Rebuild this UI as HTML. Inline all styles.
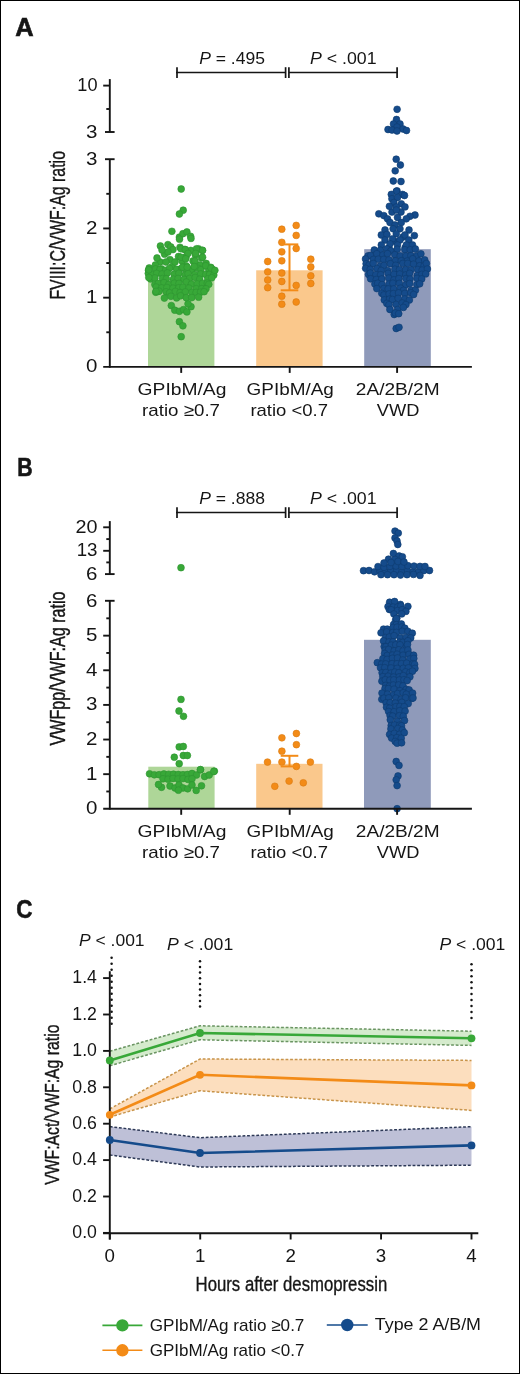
<!DOCTYPE html>
<html><head><meta charset="utf-8"><style>
html,body{margin:0;padding:0;background:#fff;}
.fig{position:relative;width:520px;height:1374px;box-sizing:border-box;border:1px solid #000;overflow:hidden;background:#fff;}
svg{position:absolute;left:-1px;top:-1px;will-change:transform;}
text{font-family:"Liberation Sans",sans-serif;}
</style></head><body><div class="fig">
<svg width="520" height="1374" viewBox="0 0 520 1374">
<rect x="148.0" y="280.36" width="66.40" height="86.54" fill="#aed698"/><rect x="256.2" y="270.30" width="66.40" height="96.60" fill="#fac88c"/><rect x="364.2" y="249.20" width="66.60" height="117.70" fill="#8f9aba"/><rect x="148.3" y="766.70" width="66.30" height="42.10" fill="#aed698"/><rect x="256.2" y="763.80" width="66.30" height="45.00" fill="#fac88c"/><rect x="364.0" y="639.80" width="66.80" height="169.00" fill="#8f9aba"/><path d="M109.80,1051.20 L200.00,1025.80 L471.50,1031.20 L471.50,1045.40 L200.00,1039.80 L109.80,1065.70 Z" fill="#d5ebcd" stroke="none"/><path d="M109.80,1051.20 L200.00,1025.80 L471.50,1031.20" fill="none" stroke="#6a9462" stroke-width="1.5" stroke-dasharray="2.8 1.8"/><path d="M109.80,1065.70 L200.00,1039.80 L471.50,1045.40" fill="none" stroke="#6a9462" stroke-width="1.5" stroke-dasharray="2.8 1.8"/><path d="M109.80,1108.90 L200.00,1059.00 L471.50,1060.40 L471.50,1110.40 L200.00,1090.80 L109.80,1117.00 Z" fill="#fcdebe" stroke="none"/><path d="M109.80,1108.90 L200.00,1059.00 L471.50,1060.40" fill="none" stroke="#c8944a" stroke-width="1.5" stroke-dasharray="2.8 1.8"/><path d="M109.80,1117.00 L200.00,1090.80 L471.50,1110.40" fill="none" stroke="#c8944a" stroke-width="1.5" stroke-dasharray="2.8 1.8"/><path d="M109.80,1126.60 L200.00,1137.70 L471.50,1126.70 L471.50,1165.20 L200.00,1167.00 L109.80,1155.00 Z" fill="#bec0d7" stroke="none"/><path d="M109.80,1126.60 L200.00,1137.70 L471.50,1126.70" fill="none" stroke="#2c3856" stroke-width="1.5" stroke-dasharray="2.8 1.8"/><path d="M109.80,1155.00 L200.00,1167.00 L471.50,1165.20" fill="none" stroke="#2c3856" stroke-width="1.5" stroke-dasharray="2.8 1.8"/><circle cx="181.2" cy="189.0" r="3.40" fill="#38a838" stroke="#2e9330" stroke-width="0.6"/><circle cx="183.2" cy="210.2" r="3.40" fill="#38a838" stroke="#2e9330" stroke-width="0.6"/><circle cx="179.4" cy="214.0" r="3.40" fill="#38a838" stroke="#2e9330" stroke-width="0.6"/><circle cx="171.9" cy="231.3" r="3.40" fill="#38a838" stroke="#2e9330" stroke-width="0.6"/><circle cx="179.4" cy="237.1" r="3.40" fill="#38a838" stroke="#2e9330" stroke-width="0.6"/><circle cx="182.9" cy="233.7" r="3.40" fill="#38a838" stroke="#2e9330" stroke-width="0.6"/><circle cx="186.9" cy="231.9" r="3.40" fill="#38a838" stroke="#2e9330" stroke-width="0.6"/><circle cx="190.6" cy="236.3" r="3.40" fill="#38a838" stroke="#2e9330" stroke-width="0.6"/><circle cx="160.4" cy="246.0" r="3.40" fill="#38a838" stroke="#2e9330" stroke-width="0.6"/><circle cx="167.9" cy="244.6" r="3.40" fill="#38a838" stroke="#2e9330" stroke-width="0.6"/><circle cx="170.8" cy="246.9" r="3.40" fill="#38a838" stroke="#2e9330" stroke-width="0.6"/><circle cx="164.6" cy="254.2" r="3.40" fill="#38a838" stroke="#2e9330" stroke-width="0.6"/><circle cx="173.0" cy="249.6" r="3.40" fill="#38a838" stroke="#2e9330" stroke-width="0.6"/><circle cx="180.0" cy="247.3" r="3.40" fill="#38a838" stroke="#2e9330" stroke-width="0.6"/><circle cx="184.6" cy="249.6" r="3.40" fill="#38a838" stroke="#2e9330" stroke-width="0.6"/><circle cx="190.8" cy="250.4" r="3.40" fill="#38a838" stroke="#2e9330" stroke-width="0.6"/><circle cx="198.5" cy="248.8" r="3.40" fill="#38a838" stroke="#2e9330" stroke-width="0.6"/><circle cx="202.3" cy="250.4" r="3.40" fill="#38a838" stroke="#2e9330" stroke-width="0.6"/><circle cx="178.5" cy="256.5" r="3.40" fill="#38a838" stroke="#2e9330" stroke-width="0.6"/><circle cx="186.2" cy="256.5" r="3.40" fill="#38a838" stroke="#2e9330" stroke-width="0.6"/><circle cx="195.4" cy="255.0" r="3.40" fill="#38a838" stroke="#2e9330" stroke-width="0.6"/><circle cx="201.5" cy="258.0" r="3.40" fill="#38a838" stroke="#2e9330" stroke-width="0.6"/><circle cx="160.0" cy="262.0" r="3.40" fill="#38a838" stroke="#2e9330" stroke-width="0.6"/><circle cx="170.0" cy="259.6" r="3.40" fill="#38a838" stroke="#2e9330" stroke-width="0.6"/><circle cx="149.2" cy="268.0" r="3.40" fill="#38a838" stroke="#2e9330" stroke-width="0.6"/><circle cx="155.4" cy="265.0" r="3.40" fill="#38a838" stroke="#2e9330" stroke-width="0.6"/><circle cx="161.5" cy="268.8" r="3.40" fill="#38a838" stroke="#2e9330" stroke-width="0.6"/><circle cx="172.3" cy="266.5" r="3.40" fill="#38a838" stroke="#2e9330" stroke-width="0.6"/><circle cx="178.5" cy="269.6" r="3.40" fill="#38a838" stroke="#2e9330" stroke-width="0.6"/><circle cx="186.2" cy="265.8" r="3.40" fill="#38a838" stroke="#2e9330" stroke-width="0.6"/><circle cx="192.3" cy="269.6" r="3.40" fill="#38a838" stroke="#2e9330" stroke-width="0.6"/><circle cx="200.0" cy="265.0" r="3.40" fill="#38a838" stroke="#2e9330" stroke-width="0.6"/><circle cx="206.2" cy="263.5" r="3.40" fill="#38a838" stroke="#2e9330" stroke-width="0.6"/><circle cx="210.8" cy="267.3" r="3.40" fill="#38a838" stroke="#2e9330" stroke-width="0.6"/><circle cx="213.8" cy="270.4" r="3.40" fill="#38a838" stroke="#2e9330" stroke-width="0.6"/><circle cx="166.0" cy="262.0" r="3.40" fill="#38a838" stroke="#2e9330" stroke-width="0.6"/><circle cx="182.0" cy="261.0" r="3.40" fill="#38a838" stroke="#2e9330" stroke-width="0.6"/><circle cx="193.0" cy="261.0" r="3.40" fill="#38a838" stroke="#2e9330" stroke-width="0.6"/><circle cx="155.8" cy="292.3" r="3.40" fill="#38a838" stroke="#2e9330" stroke-width="0.6"/><circle cx="171.3" cy="305.6" r="3.40" fill="#38a838" stroke="#2e9330" stroke-width="0.6"/><circle cx="174.8" cy="310.2" r="3.40" fill="#38a838" stroke="#2e9330" stroke-width="0.6"/><circle cx="179.4" cy="311.3" r="3.40" fill="#38a838" stroke="#2e9330" stroke-width="0.6"/><circle cx="183.5" cy="309.6" r="3.40" fill="#38a838" stroke="#2e9330" stroke-width="0.6"/><circle cx="186.9" cy="311.9" r="3.40" fill="#38a838" stroke="#2e9330" stroke-width="0.6"/><circle cx="191.0" cy="306.7" r="3.40" fill="#38a838" stroke="#2e9330" stroke-width="0.6"/><circle cx="188.0" cy="303.8" r="3.40" fill="#38a838" stroke="#2e9330" stroke-width="0.6"/><circle cx="179.4" cy="321.7" r="3.40" fill="#38a838" stroke="#2e9330" stroke-width="0.6"/><circle cx="182.9" cy="325.8" r="3.40" fill="#38a838" stroke="#2e9330" stroke-width="0.6"/><circle cx="181.2" cy="336.7" r="3.40" fill="#38a838" stroke="#2e9330" stroke-width="0.6"/><circle cx="148.5" cy="270.4" r="3.40" fill="#38a838" stroke="#2e9330" stroke-width="0.6"/><circle cx="155.5" cy="268.9" r="3.40" fill="#38a838" stroke="#2e9330" stroke-width="0.6"/><circle cx="160.0" cy="269.4" r="3.40" fill="#38a838" stroke="#2e9330" stroke-width="0.6"/><circle cx="165.7" cy="270.3" r="3.40" fill="#38a838" stroke="#2e9330" stroke-width="0.6"/><circle cx="169.5" cy="268.3" r="3.40" fill="#38a838" stroke="#2e9330" stroke-width="0.6"/><circle cx="176.7" cy="269.3" r="3.40" fill="#38a838" stroke="#2e9330" stroke-width="0.6"/><circle cx="181.8" cy="268.2" r="3.40" fill="#38a838" stroke="#2e9330" stroke-width="0.6"/><circle cx="186.3" cy="270.1" r="3.40" fill="#38a838" stroke="#2e9330" stroke-width="0.6"/><circle cx="191.0" cy="270.7" r="3.40" fill="#38a838" stroke="#2e9330" stroke-width="0.6"/><circle cx="198.0" cy="268.3" r="3.40" fill="#38a838" stroke="#2e9330" stroke-width="0.6"/><circle cx="201.0" cy="269.6" r="3.40" fill="#38a838" stroke="#2e9330" stroke-width="0.6"/><circle cx="208.7" cy="269.2" r="3.40" fill="#38a838" stroke="#2e9330" stroke-width="0.6"/><circle cx="212.1" cy="269.3" r="3.40" fill="#38a838" stroke="#2e9330" stroke-width="0.6"/><circle cx="148.3" cy="273.4" r="3.40" fill="#38a838" stroke="#2e9330" stroke-width="0.6"/><circle cx="152.0" cy="274.1" r="3.40" fill="#38a838" stroke="#2e9330" stroke-width="0.6"/><circle cx="156.7" cy="273.4" r="3.40" fill="#38a838" stroke="#2e9330" stroke-width="0.6"/><circle cx="162.0" cy="274.0" r="3.40" fill="#38a838" stroke="#2e9330" stroke-width="0.6"/><circle cx="167.4" cy="272.9" r="3.40" fill="#38a838" stroke="#2e9330" stroke-width="0.6"/><circle cx="174.1" cy="274.2" r="3.40" fill="#38a838" stroke="#2e9330" stroke-width="0.6"/><circle cx="178.9" cy="273.3" r="3.40" fill="#38a838" stroke="#2e9330" stroke-width="0.6"/><circle cx="185.1" cy="275.0" r="3.40" fill="#38a838" stroke="#2e9330" stroke-width="0.6"/><circle cx="188.1" cy="273.7" r="3.40" fill="#38a838" stroke="#2e9330" stroke-width="0.6"/><circle cx="194.9" cy="274.6" r="3.40" fill="#38a838" stroke="#2e9330" stroke-width="0.6"/><circle cx="200.7" cy="273.9" r="3.40" fill="#38a838" stroke="#2e9330" stroke-width="0.6"/><circle cx="205.7" cy="274.5" r="3.40" fill="#38a838" stroke="#2e9330" stroke-width="0.6"/><circle cx="209.6" cy="274.3" r="3.40" fill="#38a838" stroke="#2e9330" stroke-width="0.6"/><circle cx="213.8" cy="275.0" r="3.40" fill="#38a838" stroke="#2e9330" stroke-width="0.6"/><circle cx="150.5" cy="278.9" r="3.40" fill="#38a838" stroke="#2e9330" stroke-width="0.6"/><circle cx="154.9" cy="278.0" r="3.40" fill="#38a838" stroke="#2e9330" stroke-width="0.6"/><circle cx="162.5" cy="278.5" r="3.40" fill="#38a838" stroke="#2e9330" stroke-width="0.6"/><circle cx="166.4" cy="278.8" r="3.40" fill="#38a838" stroke="#2e9330" stroke-width="0.6"/><circle cx="173.4" cy="279.2" r="3.40" fill="#38a838" stroke="#2e9330" stroke-width="0.6"/><circle cx="178.1" cy="278.5" r="3.40" fill="#38a838" stroke="#2e9330" stroke-width="0.6"/><circle cx="184.1" cy="279.4" r="3.40" fill="#38a838" stroke="#2e9330" stroke-width="0.6"/><circle cx="189.7" cy="278.4" r="3.40" fill="#38a838" stroke="#2e9330" stroke-width="0.6"/><circle cx="195.2" cy="277.5" r="3.40" fill="#38a838" stroke="#2e9330" stroke-width="0.6"/><circle cx="199.7" cy="279.2" r="3.40" fill="#38a838" stroke="#2e9330" stroke-width="0.6"/><circle cx="207.7" cy="278.9" r="3.40" fill="#38a838" stroke="#2e9330" stroke-width="0.6"/><circle cx="211.8" cy="277.8" r="3.40" fill="#38a838" stroke="#2e9330" stroke-width="0.6"/><circle cx="154.9" cy="284.6" r="3.40" fill="#38a838" stroke="#2e9330" stroke-width="0.6"/><circle cx="158.3" cy="283.4" r="3.40" fill="#38a838" stroke="#2e9330" stroke-width="0.6"/><circle cx="164.0" cy="282.6" r="3.40" fill="#38a838" stroke="#2e9330" stroke-width="0.6"/><circle cx="168.7" cy="284.5" r="3.40" fill="#38a838" stroke="#2e9330" stroke-width="0.6"/><circle cx="174.3" cy="283.2" r="3.40" fill="#38a838" stroke="#2e9330" stroke-width="0.6"/><circle cx="179.0" cy="283.4" r="3.40" fill="#38a838" stroke="#2e9330" stroke-width="0.6"/><circle cx="186.3" cy="282.0" r="3.40" fill="#38a838" stroke="#2e9330" stroke-width="0.6"/><circle cx="191.4" cy="284.1" r="3.40" fill="#38a838" stroke="#2e9330" stroke-width="0.6"/><circle cx="197.2" cy="283.9" r="3.40" fill="#38a838" stroke="#2e9330" stroke-width="0.6"/><circle cx="202.5" cy="283.3" r="3.40" fill="#38a838" stroke="#2e9330" stroke-width="0.6"/><circle cx="207.3" cy="283.1" r="3.40" fill="#38a838" stroke="#2e9330" stroke-width="0.6"/><circle cx="208.8" cy="284.3" r="3.40" fill="#38a838" stroke="#2e9330" stroke-width="0.6"/><circle cx="156.2" cy="287.1" r="3.40" fill="#38a838" stroke="#2e9330" stroke-width="0.6"/><circle cx="161.7" cy="287.9" r="3.40" fill="#38a838" stroke="#2e9330" stroke-width="0.6"/><circle cx="166.9" cy="287.5" r="3.40" fill="#38a838" stroke="#2e9330" stroke-width="0.6"/><circle cx="173.0" cy="288.2" r="3.40" fill="#38a838" stroke="#2e9330" stroke-width="0.6"/><circle cx="178.8" cy="287.8" r="3.40" fill="#38a838" stroke="#2e9330" stroke-width="0.6"/><circle cx="182.9" cy="287.2" r="3.40" fill="#38a838" stroke="#2e9330" stroke-width="0.6"/><circle cx="188.9" cy="288.1" r="3.40" fill="#38a838" stroke="#2e9330" stroke-width="0.6"/><circle cx="196.3" cy="288.7" r="3.40" fill="#38a838" stroke="#2e9330" stroke-width="0.6"/><circle cx="201.8" cy="288.7" r="3.40" fill="#38a838" stroke="#2e9330" stroke-width="0.6"/><circle cx="206.0" cy="288.8" r="3.40" fill="#38a838" stroke="#2e9330" stroke-width="0.6"/><circle cx="158.2" cy="291.4" r="3.40" fill="#38a838" stroke="#2e9330" stroke-width="0.6"/><circle cx="159.0" cy="291.2" r="3.40" fill="#38a838" stroke="#2e9330" stroke-width="0.6"/><circle cx="166.1" cy="291.8" r="3.40" fill="#38a838" stroke="#2e9330" stroke-width="0.6"/><circle cx="169.6" cy="292.8" r="3.40" fill="#38a838" stroke="#2e9330" stroke-width="0.6"/><circle cx="175.4" cy="291.4" r="3.40" fill="#38a838" stroke="#2e9330" stroke-width="0.6"/><circle cx="180.1" cy="292.6" r="3.40" fill="#38a838" stroke="#2e9330" stroke-width="0.6"/><circle cx="185.3" cy="291.9" r="3.40" fill="#38a838" stroke="#2e9330" stroke-width="0.6"/><circle cx="191.9" cy="292.4" r="3.40" fill="#38a838" stroke="#2e9330" stroke-width="0.6"/><circle cx="196.1" cy="292.4" r="3.40" fill="#38a838" stroke="#2e9330" stroke-width="0.6"/><circle cx="200.5" cy="292.2" r="3.40" fill="#38a838" stroke="#2e9330" stroke-width="0.6"/><circle cx="204.1" cy="291.7" r="3.40" fill="#38a838" stroke="#2e9330" stroke-width="0.6"/><circle cx="164.4" cy="298.1" r="3.40" fill="#38a838" stroke="#2e9330" stroke-width="0.6"/><circle cx="170.9" cy="296.3" r="3.40" fill="#38a838" stroke="#2e9330" stroke-width="0.6"/><circle cx="176.6" cy="297.9" r="3.40" fill="#38a838" stroke="#2e9330" stroke-width="0.6"/><circle cx="180.6" cy="295.8" r="3.40" fill="#38a838" stroke="#2e9330" stroke-width="0.6"/><circle cx="186.3" cy="297.7" r="3.40" fill="#38a838" stroke="#2e9330" stroke-width="0.6"/><circle cx="191.8" cy="297.6" r="3.40" fill="#38a838" stroke="#2e9330" stroke-width="0.6"/><circle cx="198.6" cy="297.2" r="3.40" fill="#38a838" stroke="#2e9330" stroke-width="0.6"/><circle cx="179.5" cy="239.2" r="3.40" fill="#38a838" stroke="#2e9330" stroke-width="0.6"/><circle cx="191.0" cy="238.4" r="3.40" fill="#38a838" stroke="#2e9330" stroke-width="0.6"/><circle cx="181.0" cy="248.8" r="3.40" fill="#38a838" stroke="#2e9330" stroke-width="0.6"/><circle cx="185.3" cy="249.5" r="3.40" fill="#38a838" stroke="#2e9330" stroke-width="0.6"/><circle cx="188.0" cy="253.4" r="3.40" fill="#38a838" stroke="#2e9330" stroke-width="0.6"/><circle cx="196.5" cy="248.8" r="3.40" fill="#38a838" stroke="#2e9330" stroke-width="0.6"/><circle cx="202.6" cy="250.3" r="3.40" fill="#38a838" stroke="#2e9330" stroke-width="0.6"/><circle cx="195.7" cy="253.4" r="3.40" fill="#38a838" stroke="#2e9330" stroke-width="0.6"/><circle cx="202.6" cy="257.2" r="3.40" fill="#38a838" stroke="#2e9330" stroke-width="0.6"/><circle cx="181.0" cy="257.2" r="3.40" fill="#38a838" stroke="#2e9330" stroke-width="0.6"/><circle cx="185.7" cy="258.8" r="3.40" fill="#38a838" stroke="#2e9330" stroke-width="0.6"/><circle cx="195.0" cy="261.0" r="3.40" fill="#38a838" stroke="#2e9330" stroke-width="0.6"/><circle cx="182.6" cy="267.2" r="3.40" fill="#38a838" stroke="#2e9330" stroke-width="0.6"/><circle cx="187.2" cy="267.2" r="3.40" fill="#38a838" stroke="#2e9330" stroke-width="0.6"/><circle cx="194.2" cy="266.5" r="3.40" fill="#38a838" stroke="#2e9330" stroke-width="0.6"/><circle cx="205.7" cy="265.7" r="3.40" fill="#38a838" stroke="#2e9330" stroke-width="0.6"/><circle cx="211.0" cy="268.0" r="3.40" fill="#38a838" stroke="#2e9330" stroke-width="0.6"/><circle cx="214.9" cy="270.3" r="3.40" fill="#38a838" stroke="#2e9330" stroke-width="0.6"/><circle cx="148.8" cy="269.8" r="3.40" fill="#38a838" stroke="#2e9330" stroke-width="0.6"/><circle cx="148.8" cy="277.5" r="3.40" fill="#38a838" stroke="#2e9330" stroke-width="0.6"/><circle cx="156.0" cy="291.4" r="3.40" fill="#38a838" stroke="#2e9330" stroke-width="0.6"/><circle cx="157.0" cy="258.0" r="3.40" fill="#38a838" stroke="#2e9330" stroke-width="0.6"/><circle cx="175.0" cy="262.0" r="3.40" fill="#38a838" stroke="#2e9330" stroke-width="0.6"/><circle cx="168.0" cy="252.0" r="3.40" fill="#38a838" stroke="#2e9330" stroke-width="0.6"/><circle cx="162.0" cy="250.0" r="3.40" fill="#38a838" stroke="#2e9330" stroke-width="0.6"/><circle cx="267.7" cy="261.5" r="3.40" fill="#f38b17" stroke="#d97a10" stroke-width="0.6"/><circle cx="267.7" cy="271.8" r="3.40" fill="#f38b17" stroke="#d97a10" stroke-width="0.6"/><circle cx="267.7" cy="280.0" r="3.40" fill="#f38b17" stroke="#d97a10" stroke-width="0.6"/><circle cx="267.7" cy="287.7" r="3.40" fill="#f38b17" stroke="#d97a10" stroke-width="0.6"/><circle cx="281.8" cy="229.2" r="3.40" fill="#f38b17" stroke="#d97a10" stroke-width="0.6"/><circle cx="281.8" cy="242.3" r="3.40" fill="#f38b17" stroke="#d97a10" stroke-width="0.6"/><circle cx="281.8" cy="251.8" r="3.40" fill="#f38b17" stroke="#d97a10" stroke-width="0.6"/><circle cx="281.8" cy="260.8" r="3.40" fill="#f38b17" stroke="#d97a10" stroke-width="0.6"/><circle cx="281.8" cy="273.0" r="3.40" fill="#f38b17" stroke="#d97a10" stroke-width="0.6"/><circle cx="281.8" cy="281.5" r="3.40" fill="#f38b17" stroke="#d97a10" stroke-width="0.6"/><circle cx="281.8" cy="296.2" r="3.40" fill="#f38b17" stroke="#d97a10" stroke-width="0.6"/><circle cx="281.8" cy="304.2" r="3.40" fill="#f38b17" stroke="#d97a10" stroke-width="0.6"/><circle cx="296.2" cy="225.4" r="3.40" fill="#f38b17" stroke="#d97a10" stroke-width="0.6"/><circle cx="296.2" cy="235.4" r="3.40" fill="#f38b17" stroke="#d97a10" stroke-width="0.6"/><circle cx="296.2" cy="248.5" r="3.40" fill="#f38b17" stroke="#d97a10" stroke-width="0.6"/><circle cx="296.2" cy="285.4" r="3.40" fill="#f38b17" stroke="#d97a10" stroke-width="0.6"/><circle cx="296.2" cy="302.0" r="3.40" fill="#f38b17" stroke="#d97a10" stroke-width="0.6"/><circle cx="310.8" cy="259.2" r="3.40" fill="#f38b17" stroke="#d97a10" stroke-width="0.6"/><circle cx="310.8" cy="266.9" r="3.40" fill="#f38b17" stroke="#d97a10" stroke-width="0.6"/><circle cx="310.8" cy="275.8" r="3.40" fill="#f38b17" stroke="#d97a10" stroke-width="0.6"/><circle cx="310.8" cy="283.5" r="3.40" fill="#f38b17" stroke="#d97a10" stroke-width="0.6"/><circle cx="397.1" cy="109.3" r="3.40" fill="#154b8b" stroke="#0e3a6e" stroke-width="0.6"/><circle cx="396.5" cy="119.5" r="3.40" fill="#154b8b" stroke="#0e3a6e" stroke-width="0.6"/><circle cx="393.5" cy="124.0" r="3.40" fill="#154b8b" stroke="#0e3a6e" stroke-width="0.6"/><circle cx="400.0" cy="124.0" r="3.40" fill="#154b8b" stroke="#0e3a6e" stroke-width="0.6"/><circle cx="397.0" cy="127.0" r="3.40" fill="#154b8b" stroke="#0e3a6e" stroke-width="0.6"/><circle cx="388.0" cy="129.5" r="3.40" fill="#154b8b" stroke="#0e3a6e" stroke-width="0.6"/><circle cx="392.0" cy="130.0" r="3.40" fill="#154b8b" stroke="#0e3a6e" stroke-width="0.6"/><circle cx="403.0" cy="129.0" r="3.40" fill="#154b8b" stroke="#0e3a6e" stroke-width="0.6"/><circle cx="406.5" cy="130.5" r="3.40" fill="#154b8b" stroke="#0e3a6e" stroke-width="0.6"/><circle cx="397.0" cy="131.0" r="3.40" fill="#154b8b" stroke="#0e3a6e" stroke-width="0.6"/><circle cx="396.2" cy="159.2" r="3.40" fill="#154b8b" stroke="#0e3a6e" stroke-width="0.6"/><circle cx="400.4" cy="165.0" r="3.40" fill="#154b8b" stroke="#0e3a6e" stroke-width="0.6"/><circle cx="395.2" cy="170.8" r="3.40" fill="#154b8b" stroke="#0e3a6e" stroke-width="0.6"/><circle cx="393.3" cy="181.0" r="3.40" fill="#154b8b" stroke="#0e3a6e" stroke-width="0.6"/><circle cx="401.0" cy="181.5" r="3.40" fill="#154b8b" stroke="#0e3a6e" stroke-width="0.6"/><circle cx="397.0" cy="190.8" r="3.40" fill="#154b8b" stroke="#0e3a6e" stroke-width="0.6"/><circle cx="396.2" cy="328.5" r="3.40" fill="#154b8b" stroke="#0e3a6e" stroke-width="0.6"/><circle cx="399.0" cy="327.3" r="3.40" fill="#154b8b" stroke="#0e3a6e" stroke-width="0.6"/><circle cx="396.3" cy="191.3" r="3.40" fill="#154b8b" stroke="#0e3a6e" stroke-width="0.6"/><circle cx="392.0" cy="212.0" r="3.40" fill="#154b8b" stroke="#0e3a6e" stroke-width="0.6"/><circle cx="401.0" cy="212.0" r="3.40" fill="#154b8b" stroke="#0e3a6e" stroke-width="0.6"/><circle cx="385.0" cy="230.0" r="3.40" fill="#154b8b" stroke="#0e3a6e" stroke-width="0.6"/><circle cx="409.0" cy="230.0" r="3.40" fill="#154b8b" stroke="#0e3a6e" stroke-width="0.6"/><circle cx="389.0" cy="248.0" r="3.40" fill="#154b8b" stroke="#0e3a6e" stroke-width="0.6"/><circle cx="405.0" cy="248.0" r="3.40" fill="#154b8b" stroke="#0e3a6e" stroke-width="0.6"/><circle cx="394.0" cy="241.0" r="3.40" fill="#154b8b" stroke="#0e3a6e" stroke-width="0.6"/><circle cx="403.0" cy="237.0" r="3.40" fill="#154b8b" stroke="#0e3a6e" stroke-width="0.6"/><circle cx="391.3" cy="194.4" r="3.40" fill="#154b8b" stroke="#0e3a6e" stroke-width="0.6"/><circle cx="402.5" cy="194.4" r="3.40" fill="#154b8b" stroke="#0e3a6e" stroke-width="0.6"/><circle cx="404.5" cy="195.5" r="3.40" fill="#154b8b" stroke="#0e3a6e" stroke-width="0.6"/><circle cx="391.9" cy="198.8" r="3.40" fill="#154b8b" stroke="#0e3a6e" stroke-width="0.6"/><circle cx="397.5" cy="197.5" r="3.40" fill="#154b8b" stroke="#0e3a6e" stroke-width="0.6"/><circle cx="393.8" cy="202.5" r="3.40" fill="#154b8b" stroke="#0e3a6e" stroke-width="0.6"/><circle cx="401.3" cy="203.8" r="3.40" fill="#154b8b" stroke="#0e3a6e" stroke-width="0.6"/><circle cx="389.4" cy="206.3" r="3.40" fill="#154b8b" stroke="#0e3a6e" stroke-width="0.6"/><circle cx="396.3" cy="206.9" r="3.40" fill="#154b8b" stroke="#0e3a6e" stroke-width="0.6"/><circle cx="405.0" cy="206.9" r="3.40" fill="#154b8b" stroke="#0e3a6e" stroke-width="0.6"/><circle cx="396.3" cy="210.0" r="3.40" fill="#154b8b" stroke="#0e3a6e" stroke-width="0.6"/><circle cx="378.8" cy="213.8" r="3.40" fill="#154b8b" stroke="#0e3a6e" stroke-width="0.6"/><circle cx="383.8" cy="215.6" r="3.40" fill="#154b8b" stroke="#0e3a6e" stroke-width="0.6"/><circle cx="415.0" cy="215.0" r="3.40" fill="#154b8b" stroke="#0e3a6e" stroke-width="0.6"/><circle cx="410.0" cy="216.3" r="3.40" fill="#154b8b" stroke="#0e3a6e" stroke-width="0.6"/><circle cx="387.5" cy="218.8" r="3.40" fill="#154b8b" stroke="#0e3a6e" stroke-width="0.6"/><circle cx="406.3" cy="218.8" r="3.40" fill="#154b8b" stroke="#0e3a6e" stroke-width="0.6"/><circle cx="397.5" cy="217.5" r="3.40" fill="#154b8b" stroke="#0e3a6e" stroke-width="0.6"/><circle cx="390.0" cy="222.5" r="3.40" fill="#154b8b" stroke="#0e3a6e" stroke-width="0.6"/><circle cx="401.3" cy="222.5" r="3.40" fill="#154b8b" stroke="#0e3a6e" stroke-width="0.6"/><circle cx="395.0" cy="225.0" r="3.40" fill="#154b8b" stroke="#0e3a6e" stroke-width="0.6"/><circle cx="393.1" cy="228.8" r="3.40" fill="#154b8b" stroke="#0e3a6e" stroke-width="0.6"/><circle cx="400.0" cy="228.8" r="3.40" fill="#154b8b" stroke="#0e3a6e" stroke-width="0.6"/><circle cx="381.3" cy="235.0" r="3.40" fill="#154b8b" stroke="#0e3a6e" stroke-width="0.6"/><circle cx="386.9" cy="234.4" r="3.40" fill="#154b8b" stroke="#0e3a6e" stroke-width="0.6"/><circle cx="405.0" cy="235.0" r="3.40" fill="#154b8b" stroke="#0e3a6e" stroke-width="0.6"/><circle cx="414.4" cy="235.6" r="3.40" fill="#154b8b" stroke="#0e3a6e" stroke-width="0.6"/><circle cx="396.3" cy="233.8" r="3.40" fill="#154b8b" stroke="#0e3a6e" stroke-width="0.6"/><circle cx="385.0" cy="240.0" r="3.40" fill="#154b8b" stroke="#0e3a6e" stroke-width="0.6"/><circle cx="392.5" cy="238.8" r="3.40" fill="#154b8b" stroke="#0e3a6e" stroke-width="0.6"/><circle cx="400.0" cy="240.0" r="3.40" fill="#154b8b" stroke="#0e3a6e" stroke-width="0.6"/><circle cx="408.8" cy="240.0" r="3.40" fill="#154b8b" stroke="#0e3a6e" stroke-width="0.6"/><circle cx="381.3" cy="245.0" r="3.40" fill="#154b8b" stroke="#0e3a6e" stroke-width="0.6"/><circle cx="390.0" cy="243.8" r="3.40" fill="#154b8b" stroke="#0e3a6e" stroke-width="0.6"/><circle cx="397.5" cy="245.0" r="3.40" fill="#154b8b" stroke="#0e3a6e" stroke-width="0.6"/><circle cx="406.3" cy="245.0" r="3.40" fill="#154b8b" stroke="#0e3a6e" stroke-width="0.6"/><circle cx="412.5" cy="245.0" r="3.40" fill="#154b8b" stroke="#0e3a6e" stroke-width="0.6"/><circle cx="374.3" cy="250.0" r="3.40" fill="#154b8b" stroke="#0e3a6e" stroke-width="0.6"/><circle cx="380.4" cy="250.2" r="3.40" fill="#154b8b" stroke="#0e3a6e" stroke-width="0.6"/><circle cx="386.8" cy="248.8" r="3.40" fill="#154b8b" stroke="#0e3a6e" stroke-width="0.6"/><circle cx="390.9" cy="250.8" r="3.40" fill="#154b8b" stroke="#0e3a6e" stroke-width="0.6"/><circle cx="397.2" cy="249.2" r="3.40" fill="#154b8b" stroke="#0e3a6e" stroke-width="0.6"/><circle cx="404.9" cy="249.8" r="3.40" fill="#154b8b" stroke="#0e3a6e" stroke-width="0.6"/><circle cx="410.2" cy="249.8" r="3.40" fill="#154b8b" stroke="#0e3a6e" stroke-width="0.6"/><circle cx="415.4" cy="249.0" r="3.40" fill="#154b8b" stroke="#0e3a6e" stroke-width="0.6"/><circle cx="368.1" cy="255.8" r="3.40" fill="#154b8b" stroke="#0e3a6e" stroke-width="0.6"/><circle cx="370.7" cy="255.4" r="3.40" fill="#154b8b" stroke="#0e3a6e" stroke-width="0.6"/><circle cx="376.8" cy="253.7" r="3.40" fill="#154b8b" stroke="#0e3a6e" stroke-width="0.6"/><circle cx="382.9" cy="255.0" r="3.40" fill="#154b8b" stroke="#0e3a6e" stroke-width="0.6"/><circle cx="387.5" cy="253.6" r="3.40" fill="#154b8b" stroke="#0e3a6e" stroke-width="0.6"/><circle cx="394.8" cy="254.7" r="3.40" fill="#154b8b" stroke="#0e3a6e" stroke-width="0.6"/><circle cx="400.2" cy="255.8" r="3.40" fill="#154b8b" stroke="#0e3a6e" stroke-width="0.6"/><circle cx="406.0" cy="255.9" r="3.40" fill="#154b8b" stroke="#0e3a6e" stroke-width="0.6"/><circle cx="410.9" cy="255.6" r="3.40" fill="#154b8b" stroke="#0e3a6e" stroke-width="0.6"/><circle cx="416.9" cy="255.9" r="3.40" fill="#154b8b" stroke="#0e3a6e" stroke-width="0.6"/><circle cx="420.9" cy="253.8" r="3.40" fill="#154b8b" stroke="#0e3a6e" stroke-width="0.6"/><circle cx="365.5" cy="259.0" r="3.40" fill="#154b8b" stroke="#0e3a6e" stroke-width="0.6"/><circle cx="373.4" cy="259.5" r="3.40" fill="#154b8b" stroke="#0e3a6e" stroke-width="0.6"/><circle cx="378.3" cy="259.2" r="3.40" fill="#154b8b" stroke="#0e3a6e" stroke-width="0.6"/><circle cx="383.7" cy="259.4" r="3.40" fill="#154b8b" stroke="#0e3a6e" stroke-width="0.6"/><circle cx="389.0" cy="259.9" r="3.40" fill="#154b8b" stroke="#0e3a6e" stroke-width="0.6"/><circle cx="395.3" cy="260.8" r="3.40" fill="#154b8b" stroke="#0e3a6e" stroke-width="0.6"/><circle cx="401.3" cy="260.8" r="3.40" fill="#154b8b" stroke="#0e3a6e" stroke-width="0.6"/><circle cx="407.4" cy="261.0" r="3.40" fill="#154b8b" stroke="#0e3a6e" stroke-width="0.6"/><circle cx="412.7" cy="258.8" r="3.40" fill="#154b8b" stroke="#0e3a6e" stroke-width="0.6"/><circle cx="418.9" cy="260.9" r="3.40" fill="#154b8b" stroke="#0e3a6e" stroke-width="0.6"/><circle cx="424.7" cy="259.9" r="3.40" fill="#154b8b" stroke="#0e3a6e" stroke-width="0.6"/><circle cx="366.1" cy="263.8" r="3.40" fill="#154b8b" stroke="#0e3a6e" stroke-width="0.6"/><circle cx="369.2" cy="264.8" r="3.40" fill="#154b8b" stroke="#0e3a6e" stroke-width="0.6"/><circle cx="373.3" cy="263.5" r="3.40" fill="#154b8b" stroke="#0e3a6e" stroke-width="0.6"/><circle cx="380.4" cy="265.9" r="3.40" fill="#154b8b" stroke="#0e3a6e" stroke-width="0.6"/><circle cx="384.0" cy="265.4" r="3.40" fill="#154b8b" stroke="#0e3a6e" stroke-width="0.6"/><circle cx="390.4" cy="263.7" r="3.40" fill="#154b8b" stroke="#0e3a6e" stroke-width="0.6"/><circle cx="395.7" cy="265.3" r="3.40" fill="#154b8b" stroke="#0e3a6e" stroke-width="0.6"/><circle cx="402.8" cy="263.4" r="3.40" fill="#154b8b" stroke="#0e3a6e" stroke-width="0.6"/><circle cx="407.7" cy="263.4" r="3.40" fill="#154b8b" stroke="#0e3a6e" stroke-width="0.6"/><circle cx="413.5" cy="264.2" r="3.40" fill="#154b8b" stroke="#0e3a6e" stroke-width="0.6"/><circle cx="419.5" cy="265.8" r="3.40" fill="#154b8b" stroke="#0e3a6e" stroke-width="0.6"/><circle cx="424.1" cy="265.9" r="3.40" fill="#154b8b" stroke="#0e3a6e" stroke-width="0.6"/><circle cx="426.4" cy="263.5" r="3.40" fill="#154b8b" stroke="#0e3a6e" stroke-width="0.6"/><circle cx="365.6" cy="268.3" r="3.40" fill="#154b8b" stroke="#0e3a6e" stroke-width="0.6"/><circle cx="370.2" cy="269.3" r="3.40" fill="#154b8b" stroke="#0e3a6e" stroke-width="0.6"/><circle cx="377.0" cy="268.6" r="3.40" fill="#154b8b" stroke="#0e3a6e" stroke-width="0.6"/><circle cx="381.2" cy="270.5" r="3.40" fill="#154b8b" stroke="#0e3a6e" stroke-width="0.6"/><circle cx="387.7" cy="270.7" r="3.40" fill="#154b8b" stroke="#0e3a6e" stroke-width="0.6"/><circle cx="394.9" cy="269.2" r="3.40" fill="#154b8b" stroke="#0e3a6e" stroke-width="0.6"/><circle cx="399.5" cy="269.6" r="3.40" fill="#154b8b" stroke="#0e3a6e" stroke-width="0.6"/><circle cx="405.6" cy="269.7" r="3.40" fill="#154b8b" stroke="#0e3a6e" stroke-width="0.6"/><circle cx="411.1" cy="269.8" r="3.40" fill="#154b8b" stroke="#0e3a6e" stroke-width="0.6"/><circle cx="417.8" cy="269.5" r="3.40" fill="#154b8b" stroke="#0e3a6e" stroke-width="0.6"/><circle cx="422.2" cy="270.1" r="3.40" fill="#154b8b" stroke="#0e3a6e" stroke-width="0.6"/><circle cx="427.4" cy="269.0" r="3.40" fill="#154b8b" stroke="#0e3a6e" stroke-width="0.6"/><circle cx="368.6" cy="274.5" r="3.40" fill="#154b8b" stroke="#0e3a6e" stroke-width="0.6"/><circle cx="370.4" cy="273.1" r="3.40" fill="#154b8b" stroke="#0e3a6e" stroke-width="0.6"/><circle cx="375.9" cy="274.6" r="3.40" fill="#154b8b" stroke="#0e3a6e" stroke-width="0.6"/><circle cx="380.7" cy="274.7" r="3.40" fill="#154b8b" stroke="#0e3a6e" stroke-width="0.6"/><circle cx="388.1" cy="273.3" r="3.40" fill="#154b8b" stroke="#0e3a6e" stroke-width="0.6"/><circle cx="393.9" cy="274.3" r="3.40" fill="#154b8b" stroke="#0e3a6e" stroke-width="0.6"/><circle cx="399.8" cy="274.0" r="3.40" fill="#154b8b" stroke="#0e3a6e" stroke-width="0.6"/><circle cx="405.7" cy="275.0" r="3.40" fill="#154b8b" stroke="#0e3a6e" stroke-width="0.6"/><circle cx="409.7" cy="273.3" r="3.40" fill="#154b8b" stroke="#0e3a6e" stroke-width="0.6"/><circle cx="417.2" cy="275.6" r="3.40" fill="#154b8b" stroke="#0e3a6e" stroke-width="0.6"/><circle cx="421.9" cy="274.3" r="3.40" fill="#154b8b" stroke="#0e3a6e" stroke-width="0.6"/><circle cx="425.7" cy="273.9" r="3.40" fill="#154b8b" stroke="#0e3a6e" stroke-width="0.6"/><circle cx="370.6" cy="278.8" r="3.40" fill="#154b8b" stroke="#0e3a6e" stroke-width="0.6"/><circle cx="376.3" cy="279.5" r="3.40" fill="#154b8b" stroke="#0e3a6e" stroke-width="0.6"/><circle cx="381.8" cy="279.0" r="3.40" fill="#154b8b" stroke="#0e3a6e" stroke-width="0.6"/><circle cx="388.7" cy="278.1" r="3.40" fill="#154b8b" stroke="#0e3a6e" stroke-width="0.6"/><circle cx="393.9" cy="279.9" r="3.40" fill="#154b8b" stroke="#0e3a6e" stroke-width="0.6"/><circle cx="398.9" cy="278.6" r="3.40" fill="#154b8b" stroke="#0e3a6e" stroke-width="0.6"/><circle cx="405.9" cy="278.6" r="3.40" fill="#154b8b" stroke="#0e3a6e" stroke-width="0.6"/><circle cx="410.0" cy="279.1" r="3.40" fill="#154b8b" stroke="#0e3a6e" stroke-width="0.6"/><circle cx="417.0" cy="278.3" r="3.40" fill="#154b8b" stroke="#0e3a6e" stroke-width="0.6"/><circle cx="421.7" cy="278.9" r="3.40" fill="#154b8b" stroke="#0e3a6e" stroke-width="0.6"/><circle cx="374.9" cy="284.0" r="3.40" fill="#154b8b" stroke="#0e3a6e" stroke-width="0.6"/><circle cx="377.7" cy="283.3" r="3.40" fill="#154b8b" stroke="#0e3a6e" stroke-width="0.6"/><circle cx="382.0" cy="284.6" r="3.40" fill="#154b8b" stroke="#0e3a6e" stroke-width="0.6"/><circle cx="389.0" cy="284.1" r="3.40" fill="#154b8b" stroke="#0e3a6e" stroke-width="0.6"/><circle cx="392.9" cy="283.2" r="3.40" fill="#154b8b" stroke="#0e3a6e" stroke-width="0.6"/><circle cx="399.3" cy="283.4" r="3.40" fill="#154b8b" stroke="#0e3a6e" stroke-width="0.6"/><circle cx="405.6" cy="285.1" r="3.40" fill="#154b8b" stroke="#0e3a6e" stroke-width="0.6"/><circle cx="409.6" cy="283.6" r="3.40" fill="#154b8b" stroke="#0e3a6e" stroke-width="0.6"/><circle cx="416.9" cy="284.6" r="3.40" fill="#154b8b" stroke="#0e3a6e" stroke-width="0.6"/><circle cx="419.7" cy="283.8" r="3.40" fill="#154b8b" stroke="#0e3a6e" stroke-width="0.6"/><circle cx="376.8" cy="288.6" r="3.40" fill="#154b8b" stroke="#0e3a6e" stroke-width="0.6"/><circle cx="383.9" cy="288.5" r="3.40" fill="#154b8b" stroke="#0e3a6e" stroke-width="0.6"/><circle cx="388.2" cy="288.9" r="3.40" fill="#154b8b" stroke="#0e3a6e" stroke-width="0.6"/><circle cx="393.8" cy="288.9" r="3.40" fill="#154b8b" stroke="#0e3a6e" stroke-width="0.6"/><circle cx="400.5" cy="288.2" r="3.40" fill="#154b8b" stroke="#0e3a6e" stroke-width="0.6"/><circle cx="403.5" cy="290.3" r="3.40" fill="#154b8b" stroke="#0e3a6e" stroke-width="0.6"/><circle cx="411.2" cy="290.4" r="3.40" fill="#154b8b" stroke="#0e3a6e" stroke-width="0.6"/><circle cx="415.4" cy="290.3" r="3.40" fill="#154b8b" stroke="#0e3a6e" stroke-width="0.6"/><circle cx="381.8" cy="293.3" r="3.40" fill="#154b8b" stroke="#0e3a6e" stroke-width="0.6"/><circle cx="384.0" cy="294.9" r="3.40" fill="#154b8b" stroke="#0e3a6e" stroke-width="0.6"/><circle cx="389.1" cy="294.0" r="3.40" fill="#154b8b" stroke="#0e3a6e" stroke-width="0.6"/><circle cx="393.4" cy="293.6" r="3.40" fill="#154b8b" stroke="#0e3a6e" stroke-width="0.6"/><circle cx="398.6" cy="292.9" r="3.40" fill="#154b8b" stroke="#0e3a6e" stroke-width="0.6"/><circle cx="404.8" cy="293.4" r="3.40" fill="#154b8b" stroke="#0e3a6e" stroke-width="0.6"/><circle cx="410.7" cy="292.8" r="3.40" fill="#154b8b" stroke="#0e3a6e" stroke-width="0.6"/><circle cx="413.6" cy="294.5" r="3.40" fill="#154b8b" stroke="#0e3a6e" stroke-width="0.6"/><circle cx="384.3" cy="299.9" r="3.40" fill="#154b8b" stroke="#0e3a6e" stroke-width="0.6"/><circle cx="389.5" cy="299.1" r="3.40" fill="#154b8b" stroke="#0e3a6e" stroke-width="0.6"/><circle cx="392.5" cy="299.5" r="3.40" fill="#154b8b" stroke="#0e3a6e" stroke-width="0.6"/><circle cx="398.2" cy="298.4" r="3.40" fill="#154b8b" stroke="#0e3a6e" stroke-width="0.6"/><circle cx="404.8" cy="299.0" r="3.40" fill="#154b8b" stroke="#0e3a6e" stroke-width="0.6"/><circle cx="409.4" cy="300.0" r="3.40" fill="#154b8b" stroke="#0e3a6e" stroke-width="0.6"/><circle cx="386.8" cy="303.4" r="3.40" fill="#154b8b" stroke="#0e3a6e" stroke-width="0.6"/><circle cx="389.0" cy="304.7" r="3.40" fill="#154b8b" stroke="#0e3a6e" stroke-width="0.6"/><circle cx="396.1" cy="304.5" r="3.40" fill="#154b8b" stroke="#0e3a6e" stroke-width="0.6"/><circle cx="402.2" cy="303.0" r="3.40" fill="#154b8b" stroke="#0e3a6e" stroke-width="0.6"/><circle cx="405.9" cy="304.6" r="3.40" fill="#154b8b" stroke="#0e3a6e" stroke-width="0.6"/><circle cx="389.9" cy="309.5" r="3.40" fill="#154b8b" stroke="#0e3a6e" stroke-width="0.6"/><circle cx="397.7" cy="309.5" r="3.40" fill="#154b8b" stroke="#0e3a6e" stroke-width="0.6"/><circle cx="403.4" cy="307.4" r="3.40" fill="#154b8b" stroke="#0e3a6e" stroke-width="0.6"/><circle cx="394.2" cy="314.5" r="3.40" fill="#154b8b" stroke="#0e3a6e" stroke-width="0.6"/><circle cx="395.4" cy="313.0" r="3.40" fill="#154b8b" stroke="#0e3a6e" stroke-width="0.6"/><circle cx="398.7" cy="313.7" r="3.40" fill="#154b8b" stroke="#0e3a6e" stroke-width="0.6"/><circle cx="181.0" cy="567.7" r="3.40" fill="#38a838" stroke="#2e9330" stroke-width="0.6"/><circle cx="181.0" cy="699.4" r="3.40" fill="#38a838" stroke="#2e9330" stroke-width="0.6"/><circle cx="179.0" cy="711.0" r="3.40" fill="#38a838" stroke="#2e9330" stroke-width="0.6"/><circle cx="183.5" cy="716.3" r="3.40" fill="#38a838" stroke="#2e9330" stroke-width="0.6"/><circle cx="179.2" cy="746.9" r="3.40" fill="#38a838" stroke="#2e9330" stroke-width="0.6"/><circle cx="183.3" cy="746.5" r="3.40" fill="#38a838" stroke="#2e9330" stroke-width="0.6"/><circle cx="174.3" cy="757.2" r="3.40" fill="#38a838" stroke="#2e9330" stroke-width="0.6"/><circle cx="183.3" cy="755.5" r="3.40" fill="#38a838" stroke="#2e9330" stroke-width="0.6"/><circle cx="187.4" cy="755.5" r="3.40" fill="#38a838" stroke="#2e9330" stroke-width="0.6"/><circle cx="179.2" cy="763.7" r="3.40" fill="#38a838" stroke="#2e9330" stroke-width="0.6"/><circle cx="200.5" cy="769.8" r="3.40" fill="#38a838" stroke="#2e9330" stroke-width="0.6"/><circle cx="214.4" cy="771.1" r="3.40" fill="#38a838" stroke="#2e9330" stroke-width="0.6"/><circle cx="149.5" cy="773.8" r="3.40" fill="#38a838" stroke="#2e9330" stroke-width="0.6"/><circle cx="154.3" cy="774.8" r="3.40" fill="#38a838" stroke="#2e9330" stroke-width="0.6"/><circle cx="159.1" cy="774.7" r="3.40" fill="#38a838" stroke="#2e9330" stroke-width="0.6"/><circle cx="163.9" cy="774.0" r="3.40" fill="#38a838" stroke="#2e9330" stroke-width="0.6"/><circle cx="168.7" cy="774.3" r="3.40" fill="#38a838" stroke="#2e9330" stroke-width="0.6"/><circle cx="173.5" cy="774.2" r="3.40" fill="#38a838" stroke="#2e9330" stroke-width="0.6"/><circle cx="178.3" cy="774.5" r="3.40" fill="#38a838" stroke="#2e9330" stroke-width="0.6"/><circle cx="183.0" cy="774.7" r="3.40" fill="#38a838" stroke="#2e9330" stroke-width="0.6"/><circle cx="187.5" cy="774.5" r="3.40" fill="#38a838" stroke="#2e9330" stroke-width="0.6"/><circle cx="192.0" cy="773.5" r="3.40" fill="#38a838" stroke="#2e9330" stroke-width="0.6"/><circle cx="196.5" cy="775.0" r="3.40" fill="#38a838" stroke="#2e9330" stroke-width="0.6"/><circle cx="200.4" cy="769.6" r="3.40" fill="#38a838" stroke="#2e9330" stroke-width="0.6"/><circle cx="204.6" cy="776.5" r="3.40" fill="#38a838" stroke="#2e9330" stroke-width="0.6"/><circle cx="209.2" cy="775.0" r="3.40" fill="#38a838" stroke="#2e9330" stroke-width="0.6"/><circle cx="213.8" cy="771.5" r="3.40" fill="#38a838" stroke="#2e9330" stroke-width="0.6"/><circle cx="163.0" cy="778.8" r="3.40" fill="#38a838" stroke="#2e9330" stroke-width="0.6"/><circle cx="168.0" cy="779.2" r="3.40" fill="#38a838" stroke="#2e9330" stroke-width="0.6"/><circle cx="173.0" cy="778.5" r="3.40" fill="#38a838" stroke="#2e9330" stroke-width="0.6"/><circle cx="178.0" cy="779.0" r="3.40" fill="#38a838" stroke="#2e9330" stroke-width="0.6"/><circle cx="183.0" cy="778.6" r="3.40" fill="#38a838" stroke="#2e9330" stroke-width="0.6"/><circle cx="188.0" cy="779.4" r="3.40" fill="#38a838" stroke="#2e9330" stroke-width="0.6"/><circle cx="192.0" cy="778.8" r="3.40" fill="#38a838" stroke="#2e9330" stroke-width="0.6"/><circle cx="161.5" cy="787.3" r="3.40" fill="#38a838" stroke="#2e9330" stroke-width="0.6"/><circle cx="158.5" cy="784.5" r="3.40" fill="#38a838" stroke="#2e9330" stroke-width="0.6"/><circle cx="170.0" cy="786.0" r="3.40" fill="#38a838" stroke="#2e9330" stroke-width="0.6"/><circle cx="175.0" cy="788.0" r="3.40" fill="#38a838" stroke="#2e9330" stroke-width="0.6"/><circle cx="179.0" cy="785.0" r="3.40" fill="#38a838" stroke="#2e9330" stroke-width="0.6"/><circle cx="183.0" cy="788.0" r="3.40" fill="#38a838" stroke="#2e9330" stroke-width="0.6"/><circle cx="187.7" cy="788.8" r="3.40" fill="#38a838" stroke="#2e9330" stroke-width="0.6"/><circle cx="192.0" cy="785.0" r="3.40" fill="#38a838" stroke="#2e9330" stroke-width="0.6"/><circle cx="196.2" cy="790.4" r="3.40" fill="#38a838" stroke="#2e9330" stroke-width="0.6"/><circle cx="201.5" cy="785.8" r="3.40" fill="#38a838" stroke="#2e9330" stroke-width="0.6"/><circle cx="178.4" cy="790.2" r="3.40" fill="#38a838" stroke="#2e9330" stroke-width="0.6"/><circle cx="281.9" cy="737.8" r="3.40" fill="#f38b17" stroke="#d97a10" stroke-width="0.6"/><circle cx="296.4" cy="733.5" r="3.40" fill="#f38b17" stroke="#d97a10" stroke-width="0.6"/><circle cx="296.4" cy="744.7" r="3.40" fill="#f38b17" stroke="#d97a10" stroke-width="0.6"/><circle cx="281.9" cy="751.2" r="3.40" fill="#f38b17" stroke="#d97a10" stroke-width="0.6"/><circle cx="267.5" cy="762.1" r="3.40" fill="#f38b17" stroke="#d97a10" stroke-width="0.6"/><circle cx="281.9" cy="762.1" r="3.40" fill="#f38b17" stroke="#d97a10" stroke-width="0.6"/><circle cx="296.4" cy="766.4" r="3.40" fill="#f38b17" stroke="#d97a10" stroke-width="0.6"/><circle cx="310.4" cy="762.1" r="3.40" fill="#f38b17" stroke="#d97a10" stroke-width="0.6"/><circle cx="289.1" cy="781.1" r="3.40" fill="#f38b17" stroke="#d97a10" stroke-width="0.6"/><circle cx="274.8" cy="786.3" r="3.40" fill="#f38b17" stroke="#d97a10" stroke-width="0.6"/><circle cx="303.3" cy="782.8" r="3.40" fill="#f38b17" stroke="#d97a10" stroke-width="0.6"/><circle cx="395.0" cy="531.1" r="3.40" fill="#154b8b" stroke="#0e3a6e" stroke-width="0.6"/><circle cx="398.3" cy="533.1" r="3.40" fill="#154b8b" stroke="#0e3a6e" stroke-width="0.6"/><circle cx="395.0" cy="538.0" r="3.40" fill="#154b8b" stroke="#0e3a6e" stroke-width="0.6"/><circle cx="397.0" cy="541.0" r="3.40" fill="#154b8b" stroke="#0e3a6e" stroke-width="0.6"/><circle cx="397.8" cy="544.5" r="3.40" fill="#154b8b" stroke="#0e3a6e" stroke-width="0.6"/><circle cx="393.4" cy="553.5" r="3.40" fill="#154b8b" stroke="#0e3a6e" stroke-width="0.6"/><circle cx="399.1" cy="556.0" r="3.40" fill="#154b8b" stroke="#0e3a6e" stroke-width="0.6"/><circle cx="402.4" cy="556.8" r="3.40" fill="#154b8b" stroke="#0e3a6e" stroke-width="0.6"/><circle cx="388.5" cy="559.2" r="3.40" fill="#154b8b" stroke="#0e3a6e" stroke-width="0.6"/><circle cx="395.0" cy="559.5" r="3.40" fill="#154b8b" stroke="#0e3a6e" stroke-width="0.6"/><circle cx="389.6" cy="602.2" r="3.40" fill="#154b8b" stroke="#0e3a6e" stroke-width="0.6"/><circle cx="394.6" cy="601.5" r="3.40" fill="#154b8b" stroke="#0e3a6e" stroke-width="0.6"/><circle cx="400.4" cy="604.4" r="3.40" fill="#154b8b" stroke="#0e3a6e" stroke-width="0.6"/><circle cx="396.2" cy="761.5" r="3.40" fill="#154b8b" stroke="#0e3a6e" stroke-width="0.6"/><circle cx="399.0" cy="765.4" r="3.40" fill="#154b8b" stroke="#0e3a6e" stroke-width="0.6"/><circle cx="398.0" cy="776.0" r="3.40" fill="#154b8b" stroke="#0e3a6e" stroke-width="0.6"/><circle cx="396.2" cy="779.8" r="3.40" fill="#154b8b" stroke="#0e3a6e" stroke-width="0.6"/><circle cx="397.1" cy="785.6" r="3.40" fill="#154b8b" stroke="#0e3a6e" stroke-width="0.6"/><circle cx="397.1" cy="808.7" r="3.40" fill="#154b8b" stroke="#0e3a6e" stroke-width="0.6"/><circle cx="363.5" cy="570.7" r="3.40" fill="#154b8b" stroke="#0e3a6e" stroke-width="0.6"/><circle cx="369.0" cy="570.5" r="3.40" fill="#154b8b" stroke="#0e3a6e" stroke-width="0.6"/><circle cx="374.5" cy="571.8" r="3.40" fill="#154b8b" stroke="#0e3a6e" stroke-width="0.6"/><circle cx="380.0" cy="571.2" r="3.40" fill="#154b8b" stroke="#0e3a6e" stroke-width="0.6"/><circle cx="385.5" cy="571.7" r="3.40" fill="#154b8b" stroke="#0e3a6e" stroke-width="0.6"/><circle cx="391.0" cy="570.5" r="3.40" fill="#154b8b" stroke="#0e3a6e" stroke-width="0.6"/><circle cx="396.5" cy="571.2" r="3.40" fill="#154b8b" stroke="#0e3a6e" stroke-width="0.6"/><circle cx="402.0" cy="571.7" r="3.40" fill="#154b8b" stroke="#0e3a6e" stroke-width="0.6"/><circle cx="407.5" cy="570.9" r="3.40" fill="#154b8b" stroke="#0e3a6e" stroke-width="0.6"/><circle cx="413.0" cy="572.0" r="3.40" fill="#154b8b" stroke="#0e3a6e" stroke-width="0.6"/><circle cx="418.5" cy="571.9" r="3.40" fill="#154b8b" stroke="#0e3a6e" stroke-width="0.6"/><circle cx="424.0" cy="570.5" r="3.40" fill="#154b8b" stroke="#0e3a6e" stroke-width="0.6"/><circle cx="429.5" cy="570.5" r="3.40" fill="#154b8b" stroke="#0e3a6e" stroke-width="0.6"/><circle cx="378.0" cy="566.6" r="3.40" fill="#154b8b" stroke="#0e3a6e" stroke-width="0.6"/><circle cx="384.0" cy="567.2" r="3.40" fill="#154b8b" stroke="#0e3a6e" stroke-width="0.6"/><circle cx="390.0" cy="566.3" r="3.40" fill="#154b8b" stroke="#0e3a6e" stroke-width="0.6"/><circle cx="396.0" cy="566.0" r="3.40" fill="#154b8b" stroke="#0e3a6e" stroke-width="0.6"/><circle cx="402.0" cy="566.4" r="3.40" fill="#154b8b" stroke="#0e3a6e" stroke-width="0.6"/><circle cx="408.0" cy="565.7" r="3.40" fill="#154b8b" stroke="#0e3a6e" stroke-width="0.6"/><circle cx="414.0" cy="566.1" r="3.40" fill="#154b8b" stroke="#0e3a6e" stroke-width="0.6"/><circle cx="420.0" cy="566.4" r="3.40" fill="#154b8b" stroke="#0e3a6e" stroke-width="0.6"/><circle cx="425.0" cy="566.5" r="3.40" fill="#154b8b" stroke="#0e3a6e" stroke-width="0.6"/><circle cx="381.0" cy="574.7" r="3.40" fill="#154b8b" stroke="#0e3a6e" stroke-width="0.6"/><circle cx="387.5" cy="574.7" r="3.40" fill="#154b8b" stroke="#0e3a6e" stroke-width="0.6"/><circle cx="394.0" cy="574.7" r="3.40" fill="#154b8b" stroke="#0e3a6e" stroke-width="0.6"/><circle cx="400.5" cy="575.0" r="3.40" fill="#154b8b" stroke="#0e3a6e" stroke-width="0.6"/><circle cx="407.0" cy="574.7" r="3.40" fill="#154b8b" stroke="#0e3a6e" stroke-width="0.6"/><circle cx="413.5" cy="574.4" r="3.40" fill="#154b8b" stroke="#0e3a6e" stroke-width="0.6"/><circle cx="420.0" cy="575.4" r="3.40" fill="#154b8b" stroke="#0e3a6e" stroke-width="0.6"/><circle cx="398.0" cy="561.5" r="3.40" fill="#154b8b" stroke="#0e3a6e" stroke-width="0.6"/><circle cx="384.0" cy="563.0" r="3.40" fill="#154b8b" stroke="#0e3a6e" stroke-width="0.6"/><circle cx="404.0" cy="562.0" r="3.40" fill="#154b8b" stroke="#0e3a6e" stroke-width="0.6"/><circle cx="391.0" cy="562.5" r="3.40" fill="#154b8b" stroke="#0e3a6e" stroke-width="0.6"/><circle cx="388.0" cy="606.6" r="3.40" fill="#154b8b" stroke="#0e3a6e" stroke-width="0.6"/><circle cx="393.2" cy="607.1" r="3.40" fill="#154b8b" stroke="#0e3a6e" stroke-width="0.6"/><circle cx="397.8" cy="607.0" r="3.40" fill="#154b8b" stroke="#0e3a6e" stroke-width="0.6"/><circle cx="400.9" cy="605.9" r="3.40" fill="#154b8b" stroke="#0e3a6e" stroke-width="0.6"/><circle cx="407.9" cy="606.4" r="3.40" fill="#154b8b" stroke="#0e3a6e" stroke-width="0.6"/><circle cx="389.3" cy="609.5" r="3.40" fill="#154b8b" stroke="#0e3a6e" stroke-width="0.6"/><circle cx="391.2" cy="609.8" r="3.40" fill="#154b8b" stroke="#0e3a6e" stroke-width="0.6"/><circle cx="397.4" cy="610.6" r="3.40" fill="#154b8b" stroke="#0e3a6e" stroke-width="0.6"/><circle cx="402.2" cy="609.7" r="3.40" fill="#154b8b" stroke="#0e3a6e" stroke-width="0.6"/><circle cx="405.9" cy="611.4" r="3.40" fill="#154b8b" stroke="#0e3a6e" stroke-width="0.6"/><circle cx="393.9" cy="614.0" r="3.40" fill="#154b8b" stroke="#0e3a6e" stroke-width="0.6"/><circle cx="401.7" cy="613.9" r="3.40" fill="#154b8b" stroke="#0e3a6e" stroke-width="0.6"/><circle cx="396.8" cy="618.3" r="3.40" fill="#154b8b" stroke="#0e3a6e" stroke-width="0.6"/><circle cx="395.6" cy="620.1" r="3.40" fill="#154b8b" stroke="#0e3a6e" stroke-width="0.6"/><circle cx="396.4" cy="618.5" r="3.40" fill="#154b8b" stroke="#0e3a6e" stroke-width="0.6"/><circle cx="393.6" cy="624.5" r="3.40" fill="#154b8b" stroke="#0e3a6e" stroke-width="0.6"/><circle cx="396.4" cy="624.7" r="3.40" fill="#154b8b" stroke="#0e3a6e" stroke-width="0.6"/><circle cx="401.4" cy="624.0" r="3.40" fill="#154b8b" stroke="#0e3a6e" stroke-width="0.6"/><circle cx="383.5" cy="629.1" r="3.40" fill="#154b8b" stroke="#0e3a6e" stroke-width="0.6"/><circle cx="387.3" cy="629.1" r="3.40" fill="#154b8b" stroke="#0e3a6e" stroke-width="0.6"/><circle cx="393.1" cy="627.5" r="3.40" fill="#154b8b" stroke="#0e3a6e" stroke-width="0.6"/><circle cx="397.1" cy="627.2" r="3.40" fill="#154b8b" stroke="#0e3a6e" stroke-width="0.6"/><circle cx="401.8" cy="627.0" r="3.40" fill="#154b8b" stroke="#0e3a6e" stroke-width="0.6"/><circle cx="404.8" cy="628.2" r="3.40" fill="#154b8b" stroke="#0e3a6e" stroke-width="0.6"/><circle cx="381.0" cy="632.8" r="3.40" fill="#154b8b" stroke="#0e3a6e" stroke-width="0.6"/><circle cx="386.7" cy="631.9" r="3.40" fill="#154b8b" stroke="#0e3a6e" stroke-width="0.6"/><circle cx="392.8" cy="632.4" r="3.40" fill="#154b8b" stroke="#0e3a6e" stroke-width="0.6"/><circle cx="396.5" cy="632.4" r="3.40" fill="#154b8b" stroke="#0e3a6e" stroke-width="0.6"/><circle cx="402.3" cy="631.3" r="3.40" fill="#154b8b" stroke="#0e3a6e" stroke-width="0.6"/><circle cx="407.9" cy="631.3" r="3.40" fill="#154b8b" stroke="#0e3a6e" stroke-width="0.6"/><circle cx="412.3" cy="633.2" r="3.40" fill="#154b8b" stroke="#0e3a6e" stroke-width="0.6"/><circle cx="385.5" cy="637.5" r="3.40" fill="#154b8b" stroke="#0e3a6e" stroke-width="0.6"/><circle cx="389.3" cy="637.0" r="3.40" fill="#154b8b" stroke="#0e3a6e" stroke-width="0.6"/><circle cx="394.1" cy="635.7" r="3.40" fill="#154b8b" stroke="#0e3a6e" stroke-width="0.6"/><circle cx="400.3" cy="637.9" r="3.40" fill="#154b8b" stroke="#0e3a6e" stroke-width="0.6"/><circle cx="406.1" cy="637.4" r="3.40" fill="#154b8b" stroke="#0e3a6e" stroke-width="0.6"/><circle cx="410.7" cy="637.9" r="3.40" fill="#154b8b" stroke="#0e3a6e" stroke-width="0.6"/><circle cx="383.5" cy="640.9" r="3.40" fill="#154b8b" stroke="#0e3a6e" stroke-width="0.6"/><circle cx="389.0" cy="641.9" r="3.40" fill="#154b8b" stroke="#0e3a6e" stroke-width="0.6"/><circle cx="393.0" cy="641.8" r="3.40" fill="#154b8b" stroke="#0e3a6e" stroke-width="0.6"/><circle cx="399.6" cy="642.1" r="3.40" fill="#154b8b" stroke="#0e3a6e" stroke-width="0.6"/><circle cx="402.8" cy="642.3" r="3.40" fill="#154b8b" stroke="#0e3a6e" stroke-width="0.6"/><circle cx="407.9" cy="640.8" r="3.40" fill="#154b8b" stroke="#0e3a6e" stroke-width="0.6"/><circle cx="384.2" cy="646.6" r="3.40" fill="#154b8b" stroke="#0e3a6e" stroke-width="0.6"/><circle cx="386.0" cy="646.6" r="3.40" fill="#154b8b" stroke="#0e3a6e" stroke-width="0.6"/><circle cx="391.3" cy="645.1" r="3.40" fill="#154b8b" stroke="#0e3a6e" stroke-width="0.6"/><circle cx="395.7" cy="644.8" r="3.40" fill="#154b8b" stroke="#0e3a6e" stroke-width="0.6"/><circle cx="400.0" cy="644.8" r="3.40" fill="#154b8b" stroke="#0e3a6e" stroke-width="0.6"/><circle cx="406.3" cy="646.8" r="3.40" fill="#154b8b" stroke="#0e3a6e" stroke-width="0.6"/><circle cx="407.5" cy="644.5" r="3.40" fill="#154b8b" stroke="#0e3a6e" stroke-width="0.6"/><circle cx="385.1" cy="650.1" r="3.40" fill="#154b8b" stroke="#0e3a6e" stroke-width="0.6"/><circle cx="388.7" cy="649.4" r="3.40" fill="#154b8b" stroke="#0e3a6e" stroke-width="0.6"/><circle cx="394.2" cy="650.8" r="3.40" fill="#154b8b" stroke="#0e3a6e" stroke-width="0.6"/><circle cx="398.9" cy="649.8" r="3.40" fill="#154b8b" stroke="#0e3a6e" stroke-width="0.6"/><circle cx="403.0" cy="651.0" r="3.40" fill="#154b8b" stroke="#0e3a6e" stroke-width="0.6"/><circle cx="407.9" cy="650.0" r="3.40" fill="#154b8b" stroke="#0e3a6e" stroke-width="0.6"/><circle cx="384.6" cy="653.5" r="3.40" fill="#154b8b" stroke="#0e3a6e" stroke-width="0.6"/><circle cx="387.2" cy="655.5" r="3.40" fill="#154b8b" stroke="#0e3a6e" stroke-width="0.6"/><circle cx="392.6" cy="655.1" r="3.40" fill="#154b8b" stroke="#0e3a6e" stroke-width="0.6"/><circle cx="397.1" cy="654.2" r="3.40" fill="#154b8b" stroke="#0e3a6e" stroke-width="0.6"/><circle cx="403.0" cy="655.2" r="3.40" fill="#154b8b" stroke="#0e3a6e" stroke-width="0.6"/><circle cx="409.0" cy="654.3" r="3.40" fill="#154b8b" stroke="#0e3a6e" stroke-width="0.6"/><circle cx="413.6" cy="655.2" r="3.40" fill="#154b8b" stroke="#0e3a6e" stroke-width="0.6"/><circle cx="382.9" cy="658.7" r="3.40" fill="#154b8b" stroke="#0e3a6e" stroke-width="0.6"/><circle cx="387.1" cy="659.4" r="3.40" fill="#154b8b" stroke="#0e3a6e" stroke-width="0.6"/><circle cx="392.4" cy="658.3" r="3.40" fill="#154b8b" stroke="#0e3a6e" stroke-width="0.6"/><circle cx="397.5" cy="658.0" r="3.40" fill="#154b8b" stroke="#0e3a6e" stroke-width="0.6"/><circle cx="402.8" cy="660.0" r="3.40" fill="#154b8b" stroke="#0e3a6e" stroke-width="0.6"/><circle cx="409.6" cy="659.1" r="3.40" fill="#154b8b" stroke="#0e3a6e" stroke-width="0.6"/><circle cx="413.8" cy="658.4" r="3.40" fill="#154b8b" stroke="#0e3a6e" stroke-width="0.6"/><circle cx="377.3" cy="662.7" r="3.40" fill="#154b8b" stroke="#0e3a6e" stroke-width="0.6"/><circle cx="381.6" cy="664.1" r="3.40" fill="#154b8b" stroke="#0e3a6e" stroke-width="0.6"/><circle cx="385.8" cy="663.9" r="3.40" fill="#154b8b" stroke="#0e3a6e" stroke-width="0.6"/><circle cx="392.1" cy="663.7" r="3.40" fill="#154b8b" stroke="#0e3a6e" stroke-width="0.6"/><circle cx="397.1" cy="663.8" r="3.40" fill="#154b8b" stroke="#0e3a6e" stroke-width="0.6"/><circle cx="401.6" cy="663.7" r="3.40" fill="#154b8b" stroke="#0e3a6e" stroke-width="0.6"/><circle cx="406.7" cy="663.2" r="3.40" fill="#154b8b" stroke="#0e3a6e" stroke-width="0.6"/><circle cx="413.1" cy="663.7" r="3.40" fill="#154b8b" stroke="#0e3a6e" stroke-width="0.6"/><circle cx="414.6" cy="664.3" r="3.40" fill="#154b8b" stroke="#0e3a6e" stroke-width="0.6"/><circle cx="380.5" cy="667.8" r="3.40" fill="#154b8b" stroke="#0e3a6e" stroke-width="0.6"/><circle cx="384.7" cy="667.7" r="3.40" fill="#154b8b" stroke="#0e3a6e" stroke-width="0.6"/><circle cx="391.0" cy="668.0" r="3.40" fill="#154b8b" stroke="#0e3a6e" stroke-width="0.6"/><circle cx="397.2" cy="668.4" r="3.40" fill="#154b8b" stroke="#0e3a6e" stroke-width="0.6"/><circle cx="403.3" cy="668.3" r="3.40" fill="#154b8b" stroke="#0e3a6e" stroke-width="0.6"/><circle cx="408.3" cy="667.9" r="3.40" fill="#154b8b" stroke="#0e3a6e" stroke-width="0.6"/><circle cx="414.9" cy="668.4" r="3.40" fill="#154b8b" stroke="#0e3a6e" stroke-width="0.6"/><circle cx="382.1" cy="672.8" r="3.40" fill="#154b8b" stroke="#0e3a6e" stroke-width="0.6"/><circle cx="385.8" cy="672.5" r="3.40" fill="#154b8b" stroke="#0e3a6e" stroke-width="0.6"/><circle cx="390.9" cy="673.1" r="3.40" fill="#154b8b" stroke="#0e3a6e" stroke-width="0.6"/><circle cx="394.8" cy="672.1" r="3.40" fill="#154b8b" stroke="#0e3a6e" stroke-width="0.6"/><circle cx="398.8" cy="672.8" r="3.40" fill="#154b8b" stroke="#0e3a6e" stroke-width="0.6"/><circle cx="405.6" cy="671.9" r="3.40" fill="#154b8b" stroke="#0e3a6e" stroke-width="0.6"/><circle cx="409.9" cy="672.5" r="3.40" fill="#154b8b" stroke="#0e3a6e" stroke-width="0.6"/><circle cx="412.5" cy="671.2" r="3.40" fill="#154b8b" stroke="#0e3a6e" stroke-width="0.6"/><circle cx="382.8" cy="676.6" r="3.40" fill="#154b8b" stroke="#0e3a6e" stroke-width="0.6"/><circle cx="388.1" cy="676.2" r="3.40" fill="#154b8b" stroke="#0e3a6e" stroke-width="0.6"/><circle cx="393.6" cy="677.1" r="3.40" fill="#154b8b" stroke="#0e3a6e" stroke-width="0.6"/><circle cx="399.2" cy="676.9" r="3.40" fill="#154b8b" stroke="#0e3a6e" stroke-width="0.6"/><circle cx="403.3" cy="675.6" r="3.40" fill="#154b8b" stroke="#0e3a6e" stroke-width="0.6"/><circle cx="409.9" cy="676.8" r="3.40" fill="#154b8b" stroke="#0e3a6e" stroke-width="0.6"/><circle cx="381.9" cy="681.2" r="3.40" fill="#154b8b" stroke="#0e3a6e" stroke-width="0.6"/><circle cx="385.3" cy="679.7" r="3.40" fill="#154b8b" stroke="#0e3a6e" stroke-width="0.6"/><circle cx="389.9" cy="680.1" r="3.40" fill="#154b8b" stroke="#0e3a6e" stroke-width="0.6"/><circle cx="393.8" cy="679.9" r="3.40" fill="#154b8b" stroke="#0e3a6e" stroke-width="0.6"/><circle cx="399.4" cy="680.0" r="3.40" fill="#154b8b" stroke="#0e3a6e" stroke-width="0.6"/><circle cx="404.0" cy="679.7" r="3.40" fill="#154b8b" stroke="#0e3a6e" stroke-width="0.6"/><circle cx="407.2" cy="680.5" r="3.40" fill="#154b8b" stroke="#0e3a6e" stroke-width="0.6"/><circle cx="385.6" cy="685.4" r="3.40" fill="#154b8b" stroke="#0e3a6e" stroke-width="0.6"/><circle cx="389.3" cy="686.2" r="3.40" fill="#154b8b" stroke="#0e3a6e" stroke-width="0.6"/><circle cx="393.4" cy="685.0" r="3.40" fill="#154b8b" stroke="#0e3a6e" stroke-width="0.6"/><circle cx="398.7" cy="685.0" r="3.40" fill="#154b8b" stroke="#0e3a6e" stroke-width="0.6"/><circle cx="403.0" cy="686.0" r="3.40" fill="#154b8b" stroke="#0e3a6e" stroke-width="0.6"/><circle cx="385.0" cy="688.5" r="3.40" fill="#154b8b" stroke="#0e3a6e" stroke-width="0.6"/><circle cx="388.4" cy="688.6" r="3.40" fill="#154b8b" stroke="#0e3a6e" stroke-width="0.6"/><circle cx="394.0" cy="689.2" r="3.40" fill="#154b8b" stroke="#0e3a6e" stroke-width="0.6"/><circle cx="399.9" cy="690.7" r="3.40" fill="#154b8b" stroke="#0e3a6e" stroke-width="0.6"/><circle cx="406.2" cy="689.4" r="3.40" fill="#154b8b" stroke="#0e3a6e" stroke-width="0.6"/><circle cx="409.1" cy="689.9" r="3.40" fill="#154b8b" stroke="#0e3a6e" stroke-width="0.6"/><circle cx="382.0" cy="693.1" r="3.40" fill="#154b8b" stroke="#0e3a6e" stroke-width="0.6"/><circle cx="387.5" cy="694.2" r="3.40" fill="#154b8b" stroke="#0e3a6e" stroke-width="0.6"/><circle cx="393.4" cy="695.1" r="3.40" fill="#154b8b" stroke="#0e3a6e" stroke-width="0.6"/><circle cx="397.6" cy="693.6" r="3.40" fill="#154b8b" stroke="#0e3a6e" stroke-width="0.6"/><circle cx="403.2" cy="692.8" r="3.40" fill="#154b8b" stroke="#0e3a6e" stroke-width="0.6"/><circle cx="406.3" cy="694.2" r="3.40" fill="#154b8b" stroke="#0e3a6e" stroke-width="0.6"/><circle cx="412.6" cy="693.1" r="3.40" fill="#154b8b" stroke="#0e3a6e" stroke-width="0.6"/><circle cx="381.8" cy="699.3" r="3.40" fill="#154b8b" stroke="#0e3a6e" stroke-width="0.6"/><circle cx="383.9" cy="698.2" r="3.40" fill="#154b8b" stroke="#0e3a6e" stroke-width="0.6"/><circle cx="388.8" cy="697.9" r="3.40" fill="#154b8b" stroke="#0e3a6e" stroke-width="0.6"/><circle cx="395.9" cy="698.1" r="3.40" fill="#154b8b" stroke="#0e3a6e" stroke-width="0.6"/><circle cx="401.1" cy="699.4" r="3.40" fill="#154b8b" stroke="#0e3a6e" stroke-width="0.6"/><circle cx="405.5" cy="697.8" r="3.40" fill="#154b8b" stroke="#0e3a6e" stroke-width="0.6"/><circle cx="411.7" cy="698.4" r="3.40" fill="#154b8b" stroke="#0e3a6e" stroke-width="0.6"/><circle cx="413.0" cy="698.0" r="3.40" fill="#154b8b" stroke="#0e3a6e" stroke-width="0.6"/><circle cx="386.1" cy="702.8" r="3.40" fill="#154b8b" stroke="#0e3a6e" stroke-width="0.6"/><circle cx="390.1" cy="702.7" r="3.40" fill="#154b8b" stroke="#0e3a6e" stroke-width="0.6"/><circle cx="395.3" cy="703.1" r="3.40" fill="#154b8b" stroke="#0e3a6e" stroke-width="0.6"/><circle cx="401.8" cy="702.3" r="3.40" fill="#154b8b" stroke="#0e3a6e" stroke-width="0.6"/><circle cx="408.2" cy="703.6" r="3.40" fill="#154b8b" stroke="#0e3a6e" stroke-width="0.6"/><circle cx="386.5" cy="707.3" r="3.40" fill="#154b8b" stroke="#0e3a6e" stroke-width="0.6"/><circle cx="389.7" cy="708.2" r="3.40" fill="#154b8b" stroke="#0e3a6e" stroke-width="0.6"/><circle cx="396.0" cy="706.6" r="3.40" fill="#154b8b" stroke="#0e3a6e" stroke-width="0.6"/><circle cx="399.9" cy="706.4" r="3.40" fill="#154b8b" stroke="#0e3a6e" stroke-width="0.6"/><circle cx="404.2" cy="706.7" r="3.40" fill="#154b8b" stroke="#0e3a6e" stroke-width="0.6"/><circle cx="388.6" cy="711.5" r="3.40" fill="#154b8b" stroke="#0e3a6e" stroke-width="0.6"/><circle cx="394.1" cy="711.8" r="3.40" fill="#154b8b" stroke="#0e3a6e" stroke-width="0.6"/><circle cx="399.7" cy="710.7" r="3.40" fill="#154b8b" stroke="#0e3a6e" stroke-width="0.6"/><circle cx="405.1" cy="711.1" r="3.40" fill="#154b8b" stroke="#0e3a6e" stroke-width="0.6"/><circle cx="390.1" cy="715.6" r="3.40" fill="#154b8b" stroke="#0e3a6e" stroke-width="0.6"/><circle cx="392.7" cy="716.1" r="3.40" fill="#154b8b" stroke="#0e3a6e" stroke-width="0.6"/><circle cx="399.4" cy="715.7" r="3.40" fill="#154b8b" stroke="#0e3a6e" stroke-width="0.6"/><circle cx="403.3" cy="716.2" r="3.40" fill="#154b8b" stroke="#0e3a6e" stroke-width="0.6"/><circle cx="390.3" cy="719.8" r="3.40" fill="#154b8b" stroke="#0e3a6e" stroke-width="0.6"/><circle cx="397.4" cy="721.4" r="3.40" fill="#154b8b" stroke="#0e3a6e" stroke-width="0.6"/><circle cx="404.5" cy="720.5" r="3.40" fill="#154b8b" stroke="#0e3a6e" stroke-width="0.6"/><circle cx="391.2" cy="725.5" r="3.40" fill="#154b8b" stroke="#0e3a6e" stroke-width="0.6"/><circle cx="394.5" cy="725.0" r="3.40" fill="#154b8b" stroke="#0e3a6e" stroke-width="0.6"/><circle cx="399.7" cy="725.1" r="3.40" fill="#154b8b" stroke="#0e3a6e" stroke-width="0.6"/><circle cx="401.5" cy="725.8" r="3.40" fill="#154b8b" stroke="#0e3a6e" stroke-width="0.6"/><circle cx="390.9" cy="728.9" r="3.40" fill="#154b8b" stroke="#0e3a6e" stroke-width="0.6"/><circle cx="397.8" cy="728.5" r="3.40" fill="#154b8b" stroke="#0e3a6e" stroke-width="0.6"/><circle cx="402.3" cy="730.0" r="3.40" fill="#154b8b" stroke="#0e3a6e" stroke-width="0.6"/><circle cx="389.6" cy="734.4" r="3.40" fill="#154b8b" stroke="#0e3a6e" stroke-width="0.6"/><circle cx="394.3" cy="733.4" r="3.40" fill="#154b8b" stroke="#0e3a6e" stroke-width="0.6"/><circle cx="399.6" cy="734.3" r="3.40" fill="#154b8b" stroke="#0e3a6e" stroke-width="0.6"/><circle cx="404.3" cy="732.7" r="3.40" fill="#154b8b" stroke="#0e3a6e" stroke-width="0.6"/><circle cx="391.6" cy="738.1" r="3.40" fill="#154b8b" stroke="#0e3a6e" stroke-width="0.6"/><circle cx="396.9" cy="737.6" r="3.40" fill="#154b8b" stroke="#0e3a6e" stroke-width="0.6"/><circle cx="401.2" cy="738.2" r="3.40" fill="#154b8b" stroke="#0e3a6e" stroke-width="0.6"/><circle cx="395.2" cy="741.4" r="3.40" fill="#154b8b" stroke="#0e3a6e" stroke-width="0.6"/><circle cx="397.1" cy="743.2" r="3.40" fill="#154b8b" stroke="#0e3a6e" stroke-width="0.6"/><circle cx="401.6" cy="742.8" r="3.40" fill="#154b8b" stroke="#0e3a6e" stroke-width="0.6"/><text x="15.20" y="35.60" font-size="25" text-anchor="start" font-weight="bold" fill="#151515" textLength="18.40" lengthAdjust="spacingAndGlyphs" stroke="#151515" stroke-width="0.6">A</text><line x1="176.00" y1="72.60" x2="285.60" y2="72.60" stroke="#151515" stroke-width="1.5" /><line x1="288.90" y1="72.60" x2="397.10" y2="72.60" stroke="#151515" stroke-width="1.5" /><line x1="177.00" y1="67.20" x2="177.00" y2="78.00" stroke="#151515" stroke-width="1.7" /><line x1="285.60" y1="67.20" x2="285.60" y2="78.00" stroke="#151515" stroke-width="1.7" /><line x1="288.90" y1="67.20" x2="288.90" y2="78.00" stroke="#151515" stroke-width="1.7" /><line x1="397.10" y1="67.20" x2="397.10" y2="78.00" stroke="#151515" stroke-width="1.7" /><text x="199.20" y="63.90" font-size="17" text-anchor="start" font-weight="normal" fill="#151515" textLength="65.80" lengthAdjust="spacingAndGlyphs"><tspan font-style="italic">P</tspan> = .495</text><text x="310.00" y="63.90" font-size="17" text-anchor="start" font-weight="normal" fill="#151515" textLength="66.60" lengthAdjust="spacingAndGlyphs"><tspan font-style="italic">P</tspan> &lt; .001</text><line x1="109.80" y1="79.10" x2="109.80" y2="132.00" stroke="#151515" stroke-width="1.9" /><line x1="103.20" y1="85.60" x2="109.80" y2="85.60" stroke="#151515" stroke-width="1.9" /><line x1="106.30" y1="109.00" x2="109.80" y2="109.00" stroke="#151515" stroke-width="1.9" /><line x1="105.00" y1="132.00" x2="114.60" y2="132.00" stroke="#151515" stroke-width="1.9" /><text x="97.50" y="91.10" font-size="17.5" text-anchor="end" font-weight="normal" fill="#151515" textLength="20.20" lengthAdjust="spacingAndGlyphs">10</text><text x="97.50" y="137.50" font-size="17.5" text-anchor="end" font-weight="normal" fill="#151515" textLength="11.40" lengthAdjust="spacingAndGlyphs">3</text><line x1="109.80" y1="159.20" x2="109.80" y2="367.70" stroke="#151515" stroke-width="1.9" /><line x1="105.00" y1="159.20" x2="114.60" y2="159.20" stroke="#151515" stroke-width="1.9" /><line x1="103.20" y1="228.44" x2="109.80" y2="228.44" stroke="#151515" stroke-width="1.9" /><line x1="103.20" y1="297.67" x2="109.80" y2="297.67" stroke="#151515" stroke-width="1.9" /><line x1="106.30" y1="193.82" x2="109.80" y2="193.82" stroke="#151515" stroke-width="1.9" /><line x1="106.30" y1="263.05" x2="109.80" y2="263.05" stroke="#151515" stroke-width="1.9" /><line x1="106.30" y1="332.28" x2="109.80" y2="332.28" stroke="#151515" stroke-width="1.9" /><line x1="103.20" y1="366.90" x2="471.90" y2="366.90" stroke="#151515" stroke-width="1.9" /><text x="97.50" y="164.71" font-size="17.5" text-anchor="end" font-weight="normal" fill="#151515" textLength="11.40" lengthAdjust="spacingAndGlyphs">3</text><text x="97.50" y="233.94" font-size="17.5" text-anchor="end" font-weight="normal" fill="#151515" textLength="11.40" lengthAdjust="spacingAndGlyphs">2</text><text x="97.50" y="303.17" font-size="17.5" text-anchor="end" font-weight="normal" fill="#151515" textLength="11.40" lengthAdjust="spacingAndGlyphs">1</text><text x="97.50" y="372.40" font-size="17.5" text-anchor="end" font-weight="normal" fill="#151515" textLength="11.40" lengthAdjust="spacingAndGlyphs">0</text><text x="0" y="0" transform="translate(64.6,299.6) rotate(-90)" font-size="21.5" text-anchor="start" font-weight="normal" fill="#151515" textLength="148.60" lengthAdjust="spacingAndGlyphs" stroke="#151515" stroke-width="0.4">FVIII:C/VWF:Ag ratio</text><text x="137.60" y="395.30" font-size="17" text-anchor="start" font-weight="normal" fill="#151515" textLength="88.80" lengthAdjust="spacingAndGlyphs">GPIbM/Ag</text><text x="142.10" y="416.00" font-size="17" text-anchor="start" font-weight="normal" fill="#151515" textLength="77.90" lengthAdjust="spacingAndGlyphs">ratio ≥0.7</text><text x="246.60" y="395.30" font-size="17" text-anchor="start" font-weight="normal" fill="#151515" textLength="87.20" lengthAdjust="spacingAndGlyphs">GPIbM/Ag</text><text x="250.40" y="416.00" font-size="17" text-anchor="start" font-weight="normal" fill="#151515" textLength="77.60" lengthAdjust="spacingAndGlyphs">ratio &lt;0.7</text><text x="355.80" y="395.30" font-size="17" text-anchor="start" font-weight="normal" fill="#151515" textLength="83.80" lengthAdjust="spacingAndGlyphs">2A/2B/2M</text><text x="376.80" y="416.00" font-size="17" text-anchor="start" font-weight="normal" fill="#151515" textLength="42.60" lengthAdjust="spacingAndGlyphs">VWD</text><text x="17.20" y="476.10" font-size="25" text-anchor="start" font-weight="bold" fill="#151515" textLength="15.40" lengthAdjust="spacingAndGlyphs" stroke="#151515" stroke-width="0.6">B</text><line x1="176.00" y1="512.60" x2="285.60" y2="512.60" stroke="#151515" stroke-width="1.5" /><line x1="288.90" y1="512.60" x2="397.10" y2="512.60" stroke="#151515" stroke-width="1.5" /><line x1="177.00" y1="507.20" x2="177.00" y2="518.00" stroke="#151515" stroke-width="1.7" /><line x1="285.60" y1="507.20" x2="285.60" y2="518.00" stroke="#151515" stroke-width="1.7" /><line x1="288.90" y1="507.20" x2="288.90" y2="518.00" stroke="#151515" stroke-width="1.7" /><line x1="397.10" y1="507.20" x2="397.10" y2="518.00" stroke="#151515" stroke-width="1.7" /><text x="199.20" y="504.00" font-size="17" text-anchor="start" font-weight="normal" fill="#151515" textLength="65.80" lengthAdjust="spacingAndGlyphs"><tspan font-style="italic">P</tspan> = .888</text><text x="310.00" y="504.00" font-size="17" text-anchor="start" font-weight="normal" fill="#151515" textLength="66.60" lengthAdjust="spacingAndGlyphs"><tspan font-style="italic">P</tspan> &lt; .001</text><line x1="109.80" y1="521.10" x2="109.80" y2="574.10" stroke="#151515" stroke-width="1.9" /><line x1="103.20" y1="527.30" x2="109.80" y2="527.30" stroke="#151515" stroke-width="1.9" /><line x1="103.20" y1="550.80" x2="109.80" y2="550.80" stroke="#151515" stroke-width="1.9" /><line x1="106.30" y1="539.10" x2="109.80" y2="539.10" stroke="#151515" stroke-width="1.9" /><line x1="106.30" y1="562.40" x2="109.80" y2="562.40" stroke="#151515" stroke-width="1.9" /><line x1="105.00" y1="574.10" x2="114.60" y2="574.10" stroke="#151515" stroke-width="1.9" /><text x="97.50" y="532.80" font-size="17.5" text-anchor="end" font-weight="normal" fill="#151515" textLength="22.00" lengthAdjust="spacingAndGlyphs">20</text><text x="97.50" y="556.30" font-size="17.5" text-anchor="end" font-weight="normal" fill="#151515" textLength="20.80" lengthAdjust="spacingAndGlyphs">13</text><text x="97.50" y="579.60" font-size="17.5" text-anchor="end" font-weight="normal" fill="#151515" textLength="11.40" lengthAdjust="spacingAndGlyphs">6</text><line x1="109.80" y1="600.80" x2="109.80" y2="809.60" stroke="#151515" stroke-width="1.9" /><line x1="105.00" y1="600.80" x2="114.60" y2="600.80" stroke="#151515" stroke-width="1.9" /><line x1="103.20" y1="635.65" x2="109.80" y2="635.65" stroke="#151515" stroke-width="1.9" /><line x1="103.20" y1="670.28" x2="109.80" y2="670.28" stroke="#151515" stroke-width="1.9" /><line x1="103.20" y1="704.91" x2="109.80" y2="704.91" stroke="#151515" stroke-width="1.9" /><line x1="103.20" y1="739.54" x2="109.80" y2="739.54" stroke="#151515" stroke-width="1.9" /><line x1="103.20" y1="774.17" x2="109.80" y2="774.17" stroke="#151515" stroke-width="1.9" /><line x1="106.30" y1="618.33" x2="109.80" y2="618.33" stroke="#151515" stroke-width="1.9" /><line x1="106.30" y1="652.96" x2="109.80" y2="652.96" stroke="#151515" stroke-width="1.9" /><line x1="106.30" y1="687.59" x2="109.80" y2="687.59" stroke="#151515" stroke-width="1.9" /><line x1="106.30" y1="722.22" x2="109.80" y2="722.22" stroke="#151515" stroke-width="1.9" /><line x1="106.30" y1="756.85" x2="109.80" y2="756.85" stroke="#151515" stroke-width="1.9" /><line x1="106.30" y1="791.48" x2="109.80" y2="791.48" stroke="#151515" stroke-width="1.9" /><line x1="103.20" y1="808.80" x2="471.90" y2="808.80" stroke="#151515" stroke-width="1.9" /><text x="97.50" y="814.30" font-size="17.5" text-anchor="end" font-weight="normal" fill="#151515" textLength="11.40" lengthAdjust="spacingAndGlyphs">0</text><text x="97.50" y="779.67" font-size="17.5" text-anchor="end" font-weight="normal" fill="#151515" textLength="11.40" lengthAdjust="spacingAndGlyphs">1</text><text x="97.50" y="745.04" font-size="17.5" text-anchor="end" font-weight="normal" fill="#151515" textLength="11.40" lengthAdjust="spacingAndGlyphs">2</text><text x="97.50" y="710.41" font-size="17.5" text-anchor="end" font-weight="normal" fill="#151515" textLength="11.40" lengthAdjust="spacingAndGlyphs">3</text><text x="97.50" y="675.78" font-size="17.5" text-anchor="end" font-weight="normal" fill="#151515" textLength="11.40" lengthAdjust="spacingAndGlyphs">4</text><text x="97.50" y="641.15" font-size="17.5" text-anchor="end" font-weight="normal" fill="#151515" textLength="11.40" lengthAdjust="spacingAndGlyphs">5</text><text x="97.50" y="606.52" font-size="17.5" text-anchor="end" font-weight="normal" fill="#151515" textLength="11.40" lengthAdjust="spacingAndGlyphs">6</text><text x="0" y="0" transform="translate(64.6,745.4) rotate(-90)" font-size="21.5" text-anchor="start" font-weight="normal" fill="#151515" textLength="153.90" lengthAdjust="spacingAndGlyphs" stroke="#151515" stroke-width="0.4">VWFpp/VWF:Ag ratio</text><text x="137.60" y="836.90" font-size="17" text-anchor="start" font-weight="normal" fill="#151515" textLength="88.80" lengthAdjust="spacingAndGlyphs">GPIbM/Ag</text><text x="142.10" y="857.80" font-size="17" text-anchor="start" font-weight="normal" fill="#151515" textLength="77.90" lengthAdjust="spacingAndGlyphs">ratio ≥0.7</text><text x="246.60" y="836.90" font-size="17" text-anchor="start" font-weight="normal" fill="#151515" textLength="87.20" lengthAdjust="spacingAndGlyphs">GPIbM/Ag</text><text x="250.40" y="857.80" font-size="17" text-anchor="start" font-weight="normal" fill="#151515" textLength="77.60" lengthAdjust="spacingAndGlyphs">ratio &lt;0.7</text><text x="355.80" y="836.90" font-size="17" text-anchor="start" font-weight="normal" fill="#151515" textLength="83.80" lengthAdjust="spacingAndGlyphs">2A/2B/2M</text><text x="376.80" y="857.80" font-size="17" text-anchor="start" font-weight="normal" fill="#151515" textLength="42.60" lengthAdjust="spacingAndGlyphs">VWD</text><line x1="181.20" y1="366.90" x2="181.20" y2="372.90" stroke="#151515" stroke-width="1.9" /><line x1="289.70" y1="366.90" x2="289.70" y2="372.90" stroke="#151515" stroke-width="1.9" /><line x1="397.10" y1="366.90" x2="397.10" y2="372.90" stroke="#151515" stroke-width="1.9" /><line x1="181.20" y1="808.80" x2="181.20" y2="814.80" stroke="#151515" stroke-width="1.9" /><line x1="289.70" y1="808.80" x2="289.70" y2="814.80" stroke="#151515" stroke-width="1.9" /><line x1="397.10" y1="808.80" x2="397.10" y2="814.80" stroke="#151515" stroke-width="1.9" /><text x="16.20" y="917.80" font-size="25" text-anchor="start" font-weight="bold" fill="#151515" textLength="16.20" lengthAdjust="spacingAndGlyphs" stroke="#151515" stroke-width="0.6">C</text><line x1="109.80" y1="971.20" x2="109.80" y2="1239.60" stroke="#151515" stroke-width="1.9" /><line x1="103.10" y1="1233.20" x2="478.30" y2="1233.20" stroke="#151515" stroke-width="1.9" /><line x1="103.10" y1="978.10" x2="109.80" y2="978.10" stroke="#151515" stroke-width="1.9" /><text x="96.90" y="983.40" font-size="17.5" text-anchor="end" font-weight="normal" fill="#151515" textLength="24.60" lengthAdjust="spacingAndGlyphs">1.4</text><line x1="103.10" y1="1014.50" x2="109.80" y2="1014.50" stroke="#151515" stroke-width="1.9" /><text x="96.90" y="1019.80" font-size="17.5" text-anchor="end" font-weight="normal" fill="#151515" textLength="24.60" lengthAdjust="spacingAndGlyphs">1.2</text><line x1="103.10" y1="1050.90" x2="109.80" y2="1050.90" stroke="#151515" stroke-width="1.9" /><text x="96.90" y="1056.20" font-size="17.5" text-anchor="end" font-weight="normal" fill="#151515" textLength="24.60" lengthAdjust="spacingAndGlyphs">1.0</text><line x1="103.10" y1="1087.30" x2="109.80" y2="1087.30" stroke="#151515" stroke-width="1.9" /><text x="96.90" y="1092.60" font-size="17.5" text-anchor="end" font-weight="normal" fill="#151515" textLength="24.60" lengthAdjust="spacingAndGlyphs">0.8</text><line x1="103.10" y1="1123.70" x2="109.80" y2="1123.70" stroke="#151515" stroke-width="1.9" /><text x="96.90" y="1129.00" font-size="17.5" text-anchor="end" font-weight="normal" fill="#151515" textLength="24.60" lengthAdjust="spacingAndGlyphs">0.6</text><line x1="103.10" y1="1160.10" x2="109.80" y2="1160.10" stroke="#151515" stroke-width="1.9" /><text x="96.90" y="1165.40" font-size="17.5" text-anchor="end" font-weight="normal" fill="#151515" textLength="24.60" lengthAdjust="spacingAndGlyphs">0.4</text><line x1="103.10" y1="1196.50" x2="109.80" y2="1196.50" stroke="#151515" stroke-width="1.9" /><text x="96.90" y="1201.80" font-size="17.5" text-anchor="end" font-weight="normal" fill="#151515" textLength="24.60" lengthAdjust="spacingAndGlyphs">0.2</text><line x1="103.10" y1="1232.90" x2="109.80" y2="1232.90" stroke="#151515" stroke-width="1.9" /><text x="96.90" y="1238.20" font-size="17.5" text-anchor="end" font-weight="normal" fill="#151515" textLength="24.60" lengthAdjust="spacingAndGlyphs">0.0</text><line x1="109.80" y1="1233.20" x2="109.80" y2="1239.50" stroke="#151515" stroke-width="1.9" /><text x="109.80" y="1261.60" font-size="17.5" text-anchor="middle" font-weight="normal" fill="#151515" textLength="10.40" lengthAdjust="spacingAndGlyphs">0</text><line x1="200.22" y1="1233.20" x2="200.22" y2="1239.50" stroke="#151515" stroke-width="1.9" /><text x="200.22" y="1261.60" font-size="17.5" text-anchor="middle" font-weight="normal" fill="#151515" textLength="10.40" lengthAdjust="spacingAndGlyphs">1</text><line x1="290.65" y1="1233.20" x2="290.65" y2="1239.50" stroke="#151515" stroke-width="1.9" /><text x="290.65" y="1261.60" font-size="17.5" text-anchor="middle" font-weight="normal" fill="#151515" textLength="10.40" lengthAdjust="spacingAndGlyphs">2</text><line x1="381.07" y1="1233.20" x2="381.07" y2="1239.50" stroke="#151515" stroke-width="1.9" /><text x="381.07" y="1261.60" font-size="17.5" text-anchor="middle" font-weight="normal" fill="#151515" textLength="10.40" lengthAdjust="spacingAndGlyphs">3</text><line x1="471.50" y1="1233.20" x2="471.50" y2="1239.50" stroke="#151515" stroke-width="1.9" /><text x="471.50" y="1261.60" font-size="17.5" text-anchor="middle" font-weight="normal" fill="#151515" textLength="10.40" lengthAdjust="spacingAndGlyphs">4</text><path d="M109.80,1060.40 L200.00,1033.00 L471.50,1038.30" fill="none" stroke="#38a838" stroke-width="2.6"/><circle cx="109.80" cy="1060.40" r="3.9" fill="#38a838"/><circle cx="200.00" cy="1033.00" r="3.9" fill="#38a838"/><circle cx="471.50" cy="1038.30" r="3.9" fill="#38a838"/><path d="M109.80,1114.80 L200.00,1074.80 L471.50,1085.40" fill="none" stroke="#f38b17" stroke-width="2.6"/><circle cx="109.80" cy="1114.80" r="3.9" fill="#f38b17"/><circle cx="200.00" cy="1074.80" r="3.9" fill="#f38b17"/><circle cx="471.50" cy="1085.40" r="3.9" fill="#f38b17"/><path d="M109.80,1140.00 L200.00,1153.00 L471.50,1145.40" fill="none" stroke="#154b8b" stroke-width="2.6"/><circle cx="109.80" cy="1140.00" r="3.9" fill="#154b8b"/><circle cx="200.00" cy="1153.00" r="3.9" fill="#154b8b"/><circle cx="471.50" cy="1145.40" r="3.9" fill="#154b8b"/><text x="195.60" y="1290.90" font-size="20.5" text-anchor="start" font-weight="normal" fill="#151515" textLength="191.60" lengthAdjust="spacingAndGlyphs" stroke="#151515" stroke-width="0.35">Hours after desmopressin</text><text x="0" y="0" transform="translate(59.0,1184.8) rotate(-90)" font-size="20.8" text-anchor="start" font-weight="normal" fill="#151515" textLength="160.20" lengthAdjust="spacingAndGlyphs" stroke="#151515" stroke-width="0.4">VWF:Act/VWF:Ag ratio</text><circle cx="111.60" cy="957.80" r="1.25" fill="#151515"/><circle cx="111.60" cy="963.79" r="1.25" fill="#151515"/><circle cx="111.60" cy="969.78" r="1.25" fill="#151515"/><circle cx="111.60" cy="975.77" r="1.25" fill="#151515"/><circle cx="111.60" cy="981.76" r="1.25" fill="#151515"/><circle cx="111.60" cy="987.75" r="1.25" fill="#151515"/><circle cx="111.60" cy="993.75" r="1.25" fill="#151515"/><circle cx="111.60" cy="999.74" r="1.25" fill="#151515"/><circle cx="111.60" cy="1005.73" r="1.25" fill="#151515"/><circle cx="111.60" cy="1011.72" r="1.25" fill="#151515"/><circle cx="111.60" cy="1017.71" r="1.25" fill="#151515"/><circle cx="111.60" cy="1023.70" r="1.25" fill="#151515"/><circle cx="200.00" cy="961.30" r="1.25" fill="#151515"/><circle cx="200.00" cy="966.96" r="1.25" fill="#151515"/><circle cx="200.00" cy="972.62" r="1.25" fill="#151515"/><circle cx="200.00" cy="978.29" r="1.25" fill="#151515"/><circle cx="200.00" cy="983.95" r="1.25" fill="#151515"/><circle cx="200.00" cy="989.61" r="1.25" fill="#151515"/><circle cx="200.00" cy="995.27" r="1.25" fill="#151515"/><circle cx="200.00" cy="1000.94" r="1.25" fill="#151515"/><circle cx="200.00" cy="1006.60" r="1.25" fill="#151515"/><circle cx="471.50" cy="964.20" r="1.25" fill="#151515"/><circle cx="471.50" cy="970.18" r="1.25" fill="#151515"/><circle cx="471.50" cy="976.16" r="1.25" fill="#151515"/><circle cx="471.50" cy="982.13" r="1.25" fill="#151515"/><circle cx="471.50" cy="988.11" r="1.25" fill="#151515"/><circle cx="471.50" cy="994.09" r="1.25" fill="#151515"/><circle cx="471.50" cy="1000.07" r="1.25" fill="#151515"/><circle cx="471.50" cy="1006.04" r="1.25" fill="#151515"/><circle cx="471.50" cy="1012.02" r="1.25" fill="#151515"/><circle cx="471.50" cy="1018.00" r="1.25" fill="#151515"/><text x="79.00" y="945.80" font-size="17" text-anchor="start" font-weight="normal" fill="#151515" textLength="65.60" lengthAdjust="spacingAndGlyphs"><tspan font-style="italic">P</tspan> &lt; .001</text><text x="167.00" y="949.60" font-size="17" text-anchor="start" font-weight="normal" fill="#151515" textLength="66.20" lengthAdjust="spacingAndGlyphs"><tspan font-style="italic">P</tspan> &lt; .001</text><text x="439.40" y="949.60" font-size="17" text-anchor="start" font-weight="normal" fill="#151515" textLength="66.00" lengthAdjust="spacingAndGlyphs"><tspan font-style="italic">P</tspan> &lt; .001</text><line x1="102.40" y1="1325.40" x2="142.40" y2="1325.40" stroke="#38a838" stroke-width="1.6" /><circle cx="122.40" cy="1325.40" r="6.2" fill="#38a838"/><text x="149.70" y="1330.60" font-size="17" text-anchor="start" font-weight="normal" fill="#151515" textLength="154.70" lengthAdjust="spacingAndGlyphs">GPIbM/Ag ratio ≥0.7</text><line x1="102.40" y1="1350.30" x2="142.40" y2="1350.30" stroke="#f38b17" stroke-width="1.6" /><circle cx="122.40" cy="1350.30" r="6.2" fill="#f38b17"/><text x="149.70" y="1355.50" font-size="17" text-anchor="start" font-weight="normal" fill="#151515" textLength="154.70" lengthAdjust="spacingAndGlyphs">GPIbM/Ag ratio &lt;0.7</text><line x1="326.80" y1="1325.00" x2="367.70" y2="1325.00" stroke="#154b8b" stroke-width="1.6" /><circle cx="347.25" cy="1325.00" r="6.2" fill="#154b8b"/><text x="374.80" y="1330.20" font-size="17" text-anchor="start" font-weight="normal" fill="#151515" textLength="106.20" lengthAdjust="spacingAndGlyphs">Type 2 A/B/M</text><line x1="289.50" y1="244.40" x2="289.50" y2="290.30" stroke="#f38b17" stroke-width="2.0" /><line x1="280.70" y1="244.40" x2="298.30" y2="244.40" stroke="#f38b17" stroke-width="2.0" /><line x1="280.70" y1="290.30" x2="298.30" y2="290.30" stroke="#f38b17" stroke-width="2.0" /><line x1="289.50" y1="755.80" x2="289.50" y2="766.40" stroke="#f38b17" stroke-width="2.0" /><line x1="280.70" y1="755.80" x2="298.30" y2="755.80" stroke="#f38b17" stroke-width="2.0" /><line x1="280.70" y1="766.40" x2="298.30" y2="766.40" stroke="#f38b17" stroke-width="2.0" />
</svg></div></body></html>
